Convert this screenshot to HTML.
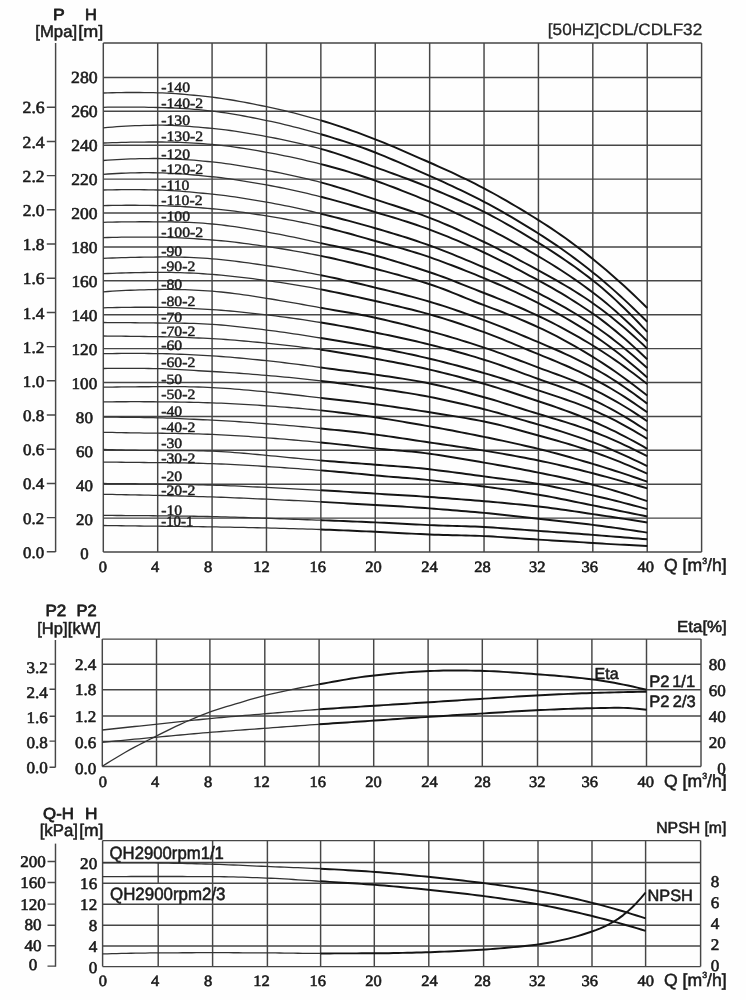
<!DOCTYPE html>
<html lang="en">
<head>
<meta charset="utf-8">
<title>[50HZ]CDL/CDLF32 performance curves</title>
<style>
html,body{margin:0;padding:0;background:#fff;}
body{width:746px;height:1000px;overflow:hidden;}
svg{display:block;filter:blur(0.45px);}
text{text-rendering:geometricPrecision;fill:#1c1c1c;stroke:#1c1c1c;stroke-width:.6px;stroke-linejoin:round;}
.s{font-family:"Liberation Serif",serif;}
.a{font-family:"Liberation Sans",sans-serif;stroke-width:.55px;}
.b{font-weight:bold;stroke-width:0;}
.m{stroke-width:.75px;}
.l{stroke-width:.45px;}
.t{stroke-width:.3px;fill:#262626;stroke:#262626;}
</style>
</head>
<body>
<svg width="746" height="1000" viewBox="0 0 746 1000">
<rect width="746" height="1000" fill="#fefefe"/>
<path d="M103.30 43.00V552.00M157.69 43.00V552.00M212.08 43.00V552.00M266.47 43.00V552.00M320.86 43.00V552.00M375.25 43.00V552.00M429.65 43.00V552.00M484.04 43.00V552.00M538.43 43.00V552.00M592.82 43.00V552.00M647.21 43.00V552.00M701.60 43.00V552.00M103.30 43.00H701.60M103.30 77.40H701.60M103.30 111.30H701.60M103.30 145.20H701.60M103.30 179.10H701.60M103.30 213.00H701.60M103.30 246.90H701.60M103.30 280.80H701.60M103.30 314.70H701.60M103.30 348.60H701.60M103.30 382.50H701.60M103.30 416.40H701.60M103.30 450.30H701.60M103.30 484.20H701.60M103.30 518.10H701.60M103.30 552.00H701.60" stroke="#464646" stroke-width="1.45" fill="none"/>
<path d="M103.30 93.00L107.83 92.86L112.37 92.74L116.90 92.64L121.43 92.56L125.96 92.51L130.50 92.48L135.03 92.48L139.56 92.51L144.09 92.56L148.63 92.63L153.16 92.71L157.69 92.80L162.22 92.92L166.76 93.11L171.29 93.35L175.82 93.65L180.35 93.99L184.89 94.37L189.42 94.79L193.95 95.23L198.48 95.70L203.02 96.20L207.55 96.70L212.08 97.21L216.61 97.76L221.15 98.37L225.68 99.03L230.21 99.75L234.74 100.51L239.28 101.31L243.81 102.15L248.34 103.01L252.88 103.91L257.41 104.82L261.94 105.74L266.47 106.68L271.01 107.63L275.54 108.62L280.07 109.65L284.60 110.71L289.14 111.80L293.67 112.93L298.20 114.09L302.73 115.29L307.27 116.52L311.80 117.78L316.33 119.07L320.86 120.40" stroke="#333" stroke-width="1.3" fill="none" stroke-linejoin="round"/>
<path d="M320.86 120.40L325.40 121.77L329.93 123.17L334.46 124.62L338.99 126.11L343.53 127.64L348.06 129.21L352.59 130.81L357.12 132.44L361.66 134.11L366.19 135.81L370.72 137.54L375.25 139.30L379.79 141.09L384.32 142.93L388.85 144.80L393.38 146.70L397.92 148.63L402.45 150.58L406.98 152.55L411.52 154.53L416.05 156.52L420.58 158.52L425.11 160.51L429.65 162.50L434.18 164.50L438.71 166.52L443.24 168.56L447.78 170.63L452.31 172.73L456.84 174.87L461.37 177.03L465.91 179.23L470.44 181.46L474.97 183.74L479.50 186.05L484.04 188.40L488.57 190.80L493.10 193.26L497.63 195.77L502.17 198.32L506.70 200.92L511.23 203.56L515.76 206.24L520.30 208.96L524.83 211.70L529.36 214.48L533.89 217.28L538.43 220.10L542.96 222.97L547.49 225.90L552.03 228.91L556.56 231.98L561.09 235.12L565.62 238.32L570.16 241.60L574.69 244.94L579.22 248.35L583.75 251.84L588.29 255.38L592.82 259.00L597.35 262.69L601.88 266.45L606.42 270.28L610.95 274.19L615.48 278.17L620.01 282.22L624.55 286.34L629.08 290.53L633.61 294.80L638.14 299.13L642.68 303.53L647.21 308.00" stroke="#141414" stroke-width="1.95" fill="none" stroke-linejoin="round"/>
<path d="M103.30 107.30L107.83 107.21L112.37 107.15L116.90 107.09L121.43 107.06L125.96 107.04L130.50 107.05L135.03 107.07L139.56 107.12L144.09 107.20L148.63 107.29L153.16 107.39L157.69 107.50L162.22 107.62L166.76 107.77L171.29 107.94L175.82 108.14L180.35 108.37L184.89 108.64L189.42 108.95L193.95 109.29L198.48 109.68L203.02 110.12L207.55 110.60L212.08 111.10L216.61 111.64L221.15 112.24L225.68 112.90L230.21 113.61L234.74 114.37L239.28 115.17L243.81 116.00L248.34 116.86L252.88 117.75L257.41 118.66L261.94 119.59L266.47 120.52L271.01 121.47L275.54 122.46L280.07 123.48L284.60 124.54L289.14 125.63L293.67 126.76L298.20 127.92L302.73 129.11L307.27 130.33L311.80 131.59L316.33 132.88L320.86 134.20" stroke="#333" stroke-width="1.3" fill="none" stroke-linejoin="round"/>
<path d="M320.86 134.20L325.40 135.55L329.93 136.91L334.46 138.31L338.99 139.73L343.53 141.18L348.06 142.67L352.59 144.19L357.12 145.76L361.66 147.37L366.19 149.03L370.72 150.74L375.25 152.50L379.79 154.31L384.32 156.17L388.85 158.06L393.38 159.98L397.92 161.92L402.45 163.89L406.98 165.88L411.52 167.87L416.05 169.88L420.58 171.89L425.11 173.90L429.65 175.90L434.18 177.91L438.71 179.93L443.24 181.98L447.78 184.05L452.31 186.15L456.84 188.28L461.37 190.45L465.91 192.64L470.44 194.87L474.97 197.14L479.50 199.45L484.04 201.80L488.57 204.20L493.10 206.66L497.63 209.16L502.17 211.71L506.70 214.31L511.23 216.95L515.76 219.63L520.30 222.34L524.83 225.09L529.36 227.87L533.89 230.67L538.43 233.50L542.96 236.37L547.49 239.31L552.03 242.32L556.56 245.40L561.09 248.54L565.62 251.75L570.16 255.02L574.69 258.36L579.22 261.77L583.75 265.25L588.29 268.79L592.82 272.40L597.35 276.08L601.88 279.85L606.42 283.70L610.95 287.63L615.48 291.64L620.01 295.73L624.55 299.90L629.08 304.13L633.61 308.44L638.14 312.83L642.68 317.28L647.21 321.80" stroke="#141414" stroke-width="1.95" fill="none" stroke-linejoin="round"/>
<path d="M103.30 127.80L107.83 127.41L112.37 127.04L116.90 126.71L121.43 126.41L125.96 126.14L130.50 125.90L135.03 125.70L139.56 125.54L144.09 125.41L148.63 125.32L153.16 125.25L157.69 125.20L162.22 125.20L166.76 125.27L171.29 125.40L175.82 125.59L180.35 125.84L184.89 126.12L189.42 126.45L193.95 126.80L198.48 127.18L203.02 127.58L207.55 127.98L212.08 128.39L216.61 128.84L221.15 129.34L225.68 129.90L230.21 130.50L234.74 131.15L239.28 131.84L243.81 132.57L248.34 133.32L252.88 134.10L257.41 134.90L261.94 135.71L266.47 136.53L271.01 137.37L275.54 138.25L280.07 139.16L284.60 140.11L289.14 141.09L293.67 142.10L298.20 143.15L302.73 144.24L307.27 145.35L311.80 146.50L316.33 147.68L320.86 148.90" stroke="#333" stroke-width="1.3" fill="none" stroke-linejoin="round"/>
<path d="M320.86 148.90L325.40 150.17L329.93 151.52L334.46 152.93L338.99 154.39L343.53 155.91L348.06 157.46L352.59 159.05L357.12 160.66L361.66 162.29L366.19 163.93L370.72 165.57L375.25 167.20L379.79 168.82L384.32 170.45L388.85 172.08L393.38 173.73L397.92 175.38L402.45 177.06L406.98 178.76L411.52 180.48L416.05 182.23L420.58 184.01L425.11 185.84L429.65 187.70L434.18 189.59L438.71 191.48L443.24 193.39L447.78 195.32L452.31 197.27L456.84 199.24L461.37 201.25L465.91 203.29L470.44 205.37L474.97 207.50L479.50 209.67L484.04 211.90L488.57 214.19L493.10 216.56L497.63 219.00L502.17 221.49L506.70 224.04L511.23 226.64L515.76 229.28L520.30 231.95L524.83 234.66L529.36 237.39L533.89 240.14L538.43 242.90L542.96 245.69L547.49 248.53L552.03 251.43L556.56 254.38L561.09 257.39L565.62 260.47L570.16 263.61L574.69 266.82L579.22 270.10L583.75 273.46L588.29 276.89L592.82 280.40L597.35 284.03L601.88 287.79L606.42 291.70L610.95 295.73L615.48 299.89L620.01 304.17L624.55 308.55L629.08 313.04L633.61 317.62L638.14 322.30L642.68 327.06L647.21 331.90" stroke="#141414" stroke-width="1.95" fill="none" stroke-linejoin="round"/>
<path d="M103.30 143.00L107.83 142.83L112.37 142.68L116.90 142.54L121.43 142.42L125.96 142.30L130.50 142.21L135.03 142.13L139.56 142.08L144.09 142.05L148.63 142.02L153.16 142.01L157.69 142.00L162.22 142.01L166.76 142.06L171.29 142.14L175.82 142.26L180.35 142.42L184.89 142.61L189.42 142.83L193.95 143.09L198.48 143.39L203.02 143.71L207.55 144.07L212.08 144.45L216.61 144.86L221.15 145.34L225.68 145.87L230.21 146.45L234.74 147.08L239.28 147.75L243.81 148.45L248.34 149.19L252.88 149.94L257.41 150.72L261.94 151.51L266.47 152.31L271.01 153.13L275.54 153.98L280.07 154.87L284.60 155.78L289.14 156.72L293.67 157.69L298.20 158.70L302.73 159.72L307.27 160.78L311.80 161.86L316.33 162.97L320.86 164.10" stroke="#333" stroke-width="1.3" fill="none" stroke-linejoin="round"/>
<path d="M320.86 164.10L325.40 165.26L329.93 166.47L334.46 167.71L338.99 168.99L343.53 170.31L348.06 171.67L352.59 173.07L357.12 174.50L361.66 175.97L366.19 177.48L370.72 179.02L375.25 180.60L379.79 182.22L384.32 183.87L388.85 185.56L393.38 187.28L397.92 189.03L402.45 190.80L406.98 192.59L411.52 194.40L416.05 196.21L420.58 198.04L425.11 199.87L429.65 201.70L434.18 203.56L438.71 205.46L443.24 207.41L447.78 209.41L452.31 211.45L456.84 213.52L461.37 215.63L465.91 217.77L470.44 219.94L474.97 222.14L479.50 224.36L484.04 226.60L488.57 228.87L493.10 231.18L497.63 233.54L502.17 235.93L506.70 238.37L511.23 240.83L515.76 243.34L520.30 245.87L524.83 248.44L529.36 251.03L533.89 253.65L538.43 256.30L542.96 258.99L547.49 261.72L552.03 264.52L556.56 267.37L561.09 270.29L565.62 273.26L570.16 276.30L574.69 279.40L579.22 282.57L583.75 285.81L588.29 289.12L592.82 292.50L597.35 295.98L601.88 299.58L606.42 303.30L610.95 307.13L615.48 311.07L620.01 315.11L624.55 319.24L629.08 323.47L633.61 327.79L638.14 332.18L642.68 336.66L647.21 341.20" stroke="#141414" stroke-width="1.95" fill="none" stroke-linejoin="round"/>
<path d="M103.30 160.50L107.83 160.17L112.37 159.86L116.90 159.58L121.43 159.34L125.96 159.12L130.50 158.93L135.03 158.78L139.56 158.66L144.09 158.58L148.63 158.53L153.16 158.50L157.69 158.50L162.22 158.54L166.76 158.63L171.29 158.78L175.82 158.99L180.35 159.23L184.89 159.53L189.42 159.86L193.95 160.22L198.48 160.62L203.02 161.04L207.55 161.49L212.08 161.95L216.61 162.43L221.15 162.97L225.68 163.56L230.21 164.19L234.74 164.86L239.28 165.57L243.81 166.31L248.34 167.07L252.88 167.86L257.41 168.66L261.94 169.47L266.47 170.29L271.01 171.13L275.54 172.01L280.07 172.91L284.60 173.84L289.14 174.81L293.67 175.80L298.20 176.83L302.73 177.88L307.27 178.97L311.80 180.08L316.33 181.23L320.86 182.40" stroke="#333" stroke-width="1.3" fill="none" stroke-linejoin="round"/>
<path d="M320.86 182.40L325.40 183.62L329.93 184.89L334.46 186.22L338.99 187.58L343.53 188.99L348.06 190.43L352.59 191.89L357.12 193.38L361.66 194.87L366.19 196.38L370.72 197.89L375.25 199.40L379.79 200.89L384.32 202.37L388.85 203.84L393.38 205.30L397.92 206.77L402.45 208.25L406.98 209.75L411.52 211.28L416.05 212.84L420.58 214.44L425.11 216.09L429.65 217.80L434.18 219.57L438.71 221.40L443.24 223.30L447.78 225.24L452.31 227.23L456.84 229.26L461.37 231.33L465.91 233.43L470.44 235.55L474.97 237.69L479.50 239.84L484.04 242.00L488.57 244.19L493.10 246.42L497.63 248.69L502.17 251.01L506.70 253.36L511.23 255.73L515.76 258.14L520.30 260.56L524.83 263.00L529.36 265.46L533.89 267.93L538.43 270.40L542.96 272.88L547.49 275.38L552.03 277.90L556.56 280.46L561.09 283.07L565.62 285.72L570.16 288.44L574.69 291.22L579.22 294.08L583.75 297.02L588.29 300.06L592.82 303.20L597.35 306.45L601.88 309.80L606.42 313.26L610.95 316.82L615.48 320.48L620.01 324.23L624.55 328.07L629.08 332.01L633.61 336.03L638.14 340.14L642.68 344.33L647.21 348.60" stroke="#141414" stroke-width="1.95" fill="none" stroke-linejoin="round"/>
<path d="M103.30 174.30L107.83 174.00L112.37 173.73L116.90 173.49L121.43 173.27L125.96 173.09L130.50 172.93L135.03 172.82L139.56 172.74L144.09 172.71L148.63 172.71L153.16 172.74L157.69 172.80L162.22 172.91L166.76 173.07L171.29 173.29L175.82 173.56L180.35 173.87L184.89 174.21L189.42 174.59L193.95 174.99L198.48 175.41L203.02 175.85L207.55 176.29L212.08 176.74L216.61 177.21L221.15 177.74L225.68 178.32L230.21 178.94L234.74 179.60L239.28 180.29L243.81 181.02L248.34 181.77L252.88 182.54L257.41 183.32L261.94 184.12L266.47 184.93L271.01 185.75L275.54 186.61L280.07 187.50L284.60 188.41L289.14 189.36L293.67 190.33L298.20 191.34L302.73 192.37L307.27 193.43L311.80 194.53L316.33 195.65L320.86 196.80" stroke="#333" stroke-width="1.3" fill="none" stroke-linejoin="round"/>
<path d="M320.86 196.80L325.40 197.98L329.93 199.17L334.46 200.39L338.99 201.63L343.53 202.88L348.06 204.15L352.59 205.44L357.12 206.75L361.66 208.07L366.19 209.40L370.72 210.74L375.25 212.10L379.79 213.46L384.32 214.81L388.85 216.17L393.38 217.54L397.92 218.92L402.45 220.33L406.98 221.77L411.52 223.24L416.05 224.75L420.58 226.31L425.11 227.92L429.65 229.60L434.18 231.33L438.71 233.09L443.24 234.88L447.78 236.71L452.31 238.58L456.84 240.47L461.37 242.40L465.91 244.36L470.44 246.35L474.97 248.37L479.50 250.42L484.04 252.50L488.57 254.62L493.10 256.80L497.63 259.02L502.17 261.29L506.70 263.60L511.23 265.94L515.76 268.31L520.30 270.70L524.83 273.11L529.36 275.53L533.89 277.97L538.43 280.40L542.96 282.86L547.49 285.37L552.03 287.93L556.56 290.54L561.09 293.21L565.62 295.94L570.16 298.72L574.69 301.57L579.22 304.48L583.75 307.45L588.29 310.49L592.82 313.60L597.35 316.81L601.88 320.15L606.42 323.61L610.95 327.18L615.48 330.87L620.01 334.67L624.55 338.56L629.08 342.55L633.61 346.62L638.14 350.77L642.68 355.00L647.21 359.30" stroke="#141414" stroke-width="1.95" fill="none" stroke-linejoin="round"/>
<path d="M103.30 190.00L107.83 189.89L112.37 189.80L116.90 189.73L121.43 189.68L125.96 189.65L130.50 189.64L135.03 189.66L139.56 189.69L144.09 189.75L148.63 189.82L153.16 189.91L157.69 190.00L162.22 190.13L166.76 190.31L171.29 190.56L175.82 190.85L180.35 191.18L184.89 191.55L189.42 191.94L193.95 192.36L198.48 192.80L203.02 193.24L207.55 193.69L212.08 194.14L216.61 194.61L221.15 195.13L225.68 195.70L230.21 196.31L234.74 196.96L239.28 197.64L243.81 198.35L248.34 199.08L252.88 199.84L257.41 200.60L261.94 201.38L266.47 202.17L271.01 202.97L275.54 203.81L280.07 204.67L284.60 205.56L289.14 206.48L293.67 207.42L298.20 208.40L302.73 209.40L307.27 210.44L311.80 211.50L316.33 212.58L320.86 213.70" stroke="#333" stroke-width="1.3" fill="none" stroke-linejoin="round"/>
<path d="M320.86 213.70L325.40 214.83L329.93 215.98L334.46 217.13L338.99 218.30L343.53 219.48L348.06 220.67L352.59 221.88L357.12 223.11L361.66 224.35L366.19 225.61L370.72 226.90L375.25 228.20L379.79 229.52L384.32 230.85L388.85 232.20L393.38 233.56L397.92 234.95L402.45 236.36L406.98 237.80L411.52 239.26L416.05 240.76L420.58 242.30L425.11 243.88L429.65 245.50L434.18 247.17L438.71 248.87L443.24 250.62L447.78 252.40L452.31 254.21L456.84 256.05L461.37 257.91L465.91 259.80L470.44 261.70L474.97 263.62L479.50 265.56L484.04 267.50L488.57 269.46L493.10 271.46L497.63 273.48L502.17 275.54L506.70 277.63L511.23 279.76L515.76 281.91L520.30 284.10L524.83 286.33L529.36 288.58L533.89 290.88L538.43 293.20L542.96 295.56L547.49 297.95L552.03 300.37L556.56 302.84L561.09 305.36L565.62 307.93L570.16 310.55L574.69 313.24L579.22 315.99L583.75 318.82L588.29 321.72L592.82 324.70L597.35 327.78L601.88 330.97L606.42 334.26L610.95 337.65L615.48 341.15L620.01 344.73L624.55 348.41L629.08 352.17L633.61 356.02L638.14 359.94L642.68 363.93L647.21 368.00" stroke="#141414" stroke-width="1.95" fill="none" stroke-linejoin="round"/>
<path d="M103.30 205.60L107.83 205.50L112.37 205.41L116.90 205.34L121.43 205.29L125.96 205.27L130.50 205.26L135.03 205.27L139.56 205.31L144.09 205.36L148.63 205.43L153.16 205.51L157.69 205.60L162.22 205.71L166.76 205.85L171.29 206.03L175.82 206.23L180.35 206.47L184.89 206.73L189.42 207.02L193.95 207.33L198.48 207.66L203.02 208.01L207.55 208.37L212.08 208.75L216.61 209.15L221.15 209.60L225.68 210.10L230.21 210.64L234.74 211.22L239.28 211.82L243.81 212.46L248.34 213.12L252.88 213.80L257.41 214.50L261.94 215.21L266.47 215.92L271.01 216.65L275.54 217.41L280.07 218.19L284.60 219.00L289.14 219.84L293.67 220.70L298.20 221.59L302.73 222.50L307.27 223.44L311.80 224.40L316.33 225.39L320.86 226.40" stroke="#333" stroke-width="1.3" fill="none" stroke-linejoin="round"/>
<path d="M320.86 226.40L325.40 227.45L329.93 228.54L334.46 229.68L338.99 230.86L343.53 232.07L348.06 233.30L352.59 234.56L357.12 235.83L361.66 237.12L366.19 238.41L370.72 239.71L375.25 241.00L379.79 242.28L384.32 243.55L388.85 244.81L393.38 246.08L397.92 247.36L402.45 248.65L406.98 249.97L411.52 251.32L416.05 252.72L420.58 254.15L425.11 255.65L429.65 257.20L434.18 258.80L438.71 260.43L443.24 262.10L447.78 263.79L452.31 265.50L456.84 267.25L461.37 269.01L465.91 270.81L470.44 272.62L474.97 274.46L479.50 276.32L484.04 278.20L488.57 280.10L493.10 282.03L497.63 283.99L502.17 285.98L506.70 288.00L511.23 290.06L515.76 292.15L520.30 294.28L524.83 296.45L529.36 298.65L533.89 300.91L538.43 303.20L542.96 305.54L547.49 307.93L552.03 310.37L556.56 312.85L561.09 315.39L565.62 317.99L570.16 320.64L574.69 323.35L579.22 326.12L583.75 328.95L588.29 331.84L592.82 334.80L597.35 337.85L601.88 341.00L606.42 344.25L610.95 347.60L615.48 351.04L620.01 354.57L624.55 358.19L629.08 361.89L633.61 365.66L638.14 369.51L642.68 373.42L647.21 377.40" stroke="#141414" stroke-width="1.95" fill="none" stroke-linejoin="round"/>
<path d="M103.30 222.30L107.83 222.20L112.37 222.10L116.90 222.01L121.43 221.94L125.96 221.87L130.50 221.82L135.03 221.78L139.56 221.77L144.09 221.76L148.63 221.77L153.16 221.78L157.69 221.80L162.22 221.83L166.76 221.86L171.29 221.92L175.82 221.99L180.35 222.09L184.89 222.23L189.42 222.40L193.95 222.62L198.48 222.88L203.02 223.20L207.55 223.58L212.08 223.99L216.61 224.43L221.15 224.93L225.68 225.48L230.21 226.08L234.74 226.72L239.28 227.40L243.81 228.11L248.34 228.85L252.88 229.61L257.41 230.39L261.94 231.18L266.47 231.97L271.01 232.78L275.54 233.62L280.07 234.48L284.60 235.36L289.14 236.27L293.67 237.19L298.20 238.14L302.73 239.10L307.27 240.08L311.80 241.07L316.33 242.08L320.86 243.10" stroke="#333" stroke-width="1.3" fill="none" stroke-linejoin="round"/>
<path d="M320.86 243.10L325.40 244.11L329.93 245.10L334.46 246.07L338.99 247.04L343.53 248.00L348.06 248.98L352.59 249.97L357.12 250.99L361.66 252.04L366.19 253.14L370.72 254.29L375.25 255.50L379.79 256.76L384.32 258.05L388.85 259.36L393.38 260.71L397.92 262.08L402.45 263.47L406.98 264.89L411.52 266.32L416.05 267.77L420.58 269.23L425.11 270.71L429.65 272.20L434.18 273.73L438.71 275.33L443.24 276.99L447.78 278.71L452.31 280.46L456.84 282.24L461.37 284.04L465.91 285.85L470.44 287.66L474.97 289.46L479.50 291.25L484.04 293.00L488.57 294.75L493.10 296.52L497.63 298.31L502.17 300.14L506.70 301.99L511.23 303.88L515.76 305.80L520.30 307.75L524.83 309.75L529.36 311.79L533.89 313.87L538.43 316.00L542.96 318.18L547.49 320.40L552.03 322.68L556.56 325.00L561.09 327.38L565.62 329.81L570.16 332.29L574.69 334.82L579.22 337.41L583.75 340.05L588.29 342.75L592.82 345.50L597.35 348.32L601.88 351.22L606.42 354.20L610.95 357.25L615.48 360.38L620.01 363.57L624.55 366.84L629.08 370.17L633.61 373.56L638.14 377.02L642.68 380.53L647.21 384.10" stroke="#141414" stroke-width="1.95" fill="none" stroke-linejoin="round"/>
<path d="M103.30 237.60L107.83 237.48L112.37 237.38L116.90 237.29L121.43 237.22L125.96 237.16L130.50 237.12L135.03 237.09L139.56 237.09L144.09 237.10L148.63 237.13L153.16 237.16L157.69 237.20L162.22 237.26L166.76 237.37L171.29 237.52L175.82 237.70L180.35 237.91L184.89 238.16L189.42 238.42L193.95 238.71L198.48 239.02L203.02 239.34L207.55 239.67L212.08 240.00L216.61 240.36L221.15 240.76L225.68 241.21L230.21 241.70L234.74 242.22L239.28 242.77L243.81 243.34L248.34 243.94L252.88 244.56L257.41 245.18L261.94 245.82L266.47 246.47L271.01 247.12L275.54 247.81L280.07 248.51L284.60 249.24L289.14 250.00L293.67 250.77L298.20 251.57L302.73 252.40L307.27 253.24L311.80 254.11L316.33 254.99L320.86 255.90" stroke="#333" stroke-width="1.3" fill="none" stroke-linejoin="round"/>
<path d="M320.86 255.90L325.40 256.84L329.93 257.80L334.46 258.81L338.99 259.83L343.53 260.89L348.06 261.97L352.59 263.07L357.12 264.19L361.66 265.32L366.19 266.47L370.72 267.63L375.25 268.80L379.79 269.98L384.32 271.16L388.85 272.36L393.38 273.58L397.92 274.81L402.45 276.07L406.98 277.35L411.52 278.66L416.05 279.99L420.58 281.36L425.11 282.76L429.65 284.20L434.18 285.71L438.71 287.32L443.24 289.02L447.78 290.77L452.31 292.58L456.84 294.42L461.37 296.27L465.91 298.12L470.44 299.96L474.97 301.76L479.50 303.51L484.04 305.20L488.57 306.86L493.10 308.55L497.63 310.26L502.17 312.01L506.70 313.79L511.23 315.60L515.76 317.45L520.30 319.34L524.83 321.27L529.36 323.24L533.89 325.25L538.43 327.30L542.96 329.41L547.49 331.60L552.03 333.86L556.56 336.19L561.09 338.58L565.62 341.03L570.16 343.54L574.69 346.11L579.22 348.73L583.75 351.41L588.29 354.13L592.82 356.90L597.35 359.73L601.88 362.64L606.42 365.62L610.95 368.68L615.48 371.80L620.01 375.00L624.55 378.26L629.08 381.59L633.61 384.98L638.14 388.43L642.68 391.94L647.21 395.50" stroke="#141414" stroke-width="1.95" fill="none" stroke-linejoin="round"/>
<path d="M103.30 258.40L107.83 258.20L112.37 258.01L116.90 257.84L121.43 257.69L125.96 257.55L130.50 257.42L135.03 257.32L139.56 257.23L144.09 257.16L148.63 257.10L153.16 257.05L157.69 257.00L162.22 256.97L166.76 256.96L171.29 256.98L175.82 257.03L180.35 257.12L184.89 257.24L189.42 257.40L193.95 257.60L198.48 257.84L203.02 258.13L207.55 258.47L212.08 258.83L216.61 259.22L221.15 259.65L225.68 260.12L230.21 260.63L234.74 261.17L239.28 261.74L243.81 262.34L248.34 262.96L252.88 263.60L257.41 264.25L261.94 264.91L266.47 265.58L271.01 266.26L275.54 266.97L280.07 267.70L284.60 268.45L289.14 269.22L293.67 270.01L298.20 270.83L302.73 271.66L307.27 272.52L311.80 273.39L316.33 274.29L320.86 275.20" stroke="#333" stroke-width="1.3" fill="none" stroke-linejoin="round"/>
<path d="M320.86 275.20L325.40 276.13L329.93 277.09L334.46 278.07L338.99 279.07L343.53 280.09L348.06 281.13L352.59 282.18L357.12 283.25L361.66 284.32L366.19 285.41L370.72 286.50L375.25 287.60L379.79 288.70L384.32 289.80L388.85 290.91L393.38 292.02L397.92 293.15L402.45 294.29L406.98 295.45L411.52 296.64L416.05 297.85L420.58 299.10L425.11 300.38L429.65 301.70L434.18 303.06L438.71 304.47L443.24 305.91L447.78 307.40L452.31 308.91L456.84 310.46L461.37 312.03L465.91 313.63L470.44 315.25L474.97 316.89L479.50 318.54L484.04 320.20L488.57 321.89L493.10 323.62L497.63 325.38L502.17 327.17L506.70 328.99L511.23 330.84L515.76 332.70L520.30 334.58L524.83 336.48L529.36 338.38L533.89 340.29L538.43 342.20L542.96 344.12L547.49 346.05L552.03 348.01L556.56 349.99L561.09 352.01L565.62 354.07L570.16 356.17L574.69 358.33L579.22 360.55L583.75 362.82L588.29 365.17L592.82 367.60L597.35 370.12L601.88 372.73L606.42 375.45L610.95 378.26L615.48 381.15L620.01 384.14L624.55 387.20L629.08 390.34L633.61 393.55L638.14 396.84L642.68 400.19L647.21 403.60" stroke="#141414" stroke-width="1.95" fill="none" stroke-linejoin="round"/>
<path d="M103.30 273.70L107.83 273.50L112.37 273.32L116.90 273.15L121.43 273.00L125.96 272.87L130.50 272.75L135.03 272.66L139.56 272.58L144.09 272.52L148.63 272.47L153.16 272.43L157.69 272.40L162.22 272.39L166.76 272.41L171.29 272.46L175.82 272.54L180.35 272.66L184.89 272.81L189.42 272.99L193.95 273.21L198.48 273.46L203.02 273.75L207.55 274.07L212.08 274.40L216.61 274.75L221.15 275.14L225.68 275.57L230.21 276.03L234.74 276.53L239.28 277.04L243.81 277.59L248.34 278.15L252.88 278.72L257.41 279.31L261.94 279.91L266.47 280.52L271.01 281.13L275.54 281.78L280.07 282.44L284.60 283.12L289.14 283.83L293.67 284.56L298.20 285.32L302.73 286.09L307.27 286.89L311.80 287.70L316.33 288.54L320.86 289.40" stroke="#333" stroke-width="1.3" fill="none" stroke-linejoin="round"/>
<path d="M320.86 289.40L325.40 290.28L329.93 291.18L334.46 292.10L338.99 293.03L343.53 293.98L348.06 294.95L352.59 295.93L357.12 296.92L361.66 297.93L366.19 298.94L370.72 299.97L375.25 301.00L379.79 302.04L384.32 303.08L388.85 304.12L393.38 305.18L397.92 306.25L402.45 307.34L406.98 308.44L411.52 309.57L416.05 310.73L420.58 311.92L425.11 313.14L429.65 314.40L434.18 315.70L438.71 317.04L443.24 318.42L447.78 319.83L452.31 321.28L456.84 322.76L461.37 324.27L465.91 325.81L470.44 327.37L474.97 328.96L479.50 330.57L484.04 332.20L488.57 333.87L493.10 335.60L497.63 337.38L502.17 339.20L506.70 341.05L511.23 342.92L515.76 344.82L520.30 346.71L524.83 348.61L529.36 350.49L533.89 352.36L538.43 354.20L542.96 356.03L547.49 357.87L552.03 359.73L556.56 361.62L561.09 363.55L565.62 365.50L570.16 367.51L574.69 369.56L579.22 371.67L583.75 373.85L588.29 376.09L592.82 378.40L597.35 380.80L601.88 383.28L606.42 385.85L610.95 388.50L615.48 391.23L620.01 394.04L624.55 396.91L629.08 399.86L633.61 402.88L638.14 405.96L642.68 409.10L647.21 412.30" stroke="#141414" stroke-width="1.95" fill="none" stroke-linejoin="round"/>
<path d="M103.30 291.80L107.83 291.49L112.37 291.20L116.90 290.93L121.43 290.68L125.96 290.45L130.50 290.24L135.03 290.06L139.56 289.91L144.09 289.78L148.63 289.67L153.16 289.58L157.69 289.50L162.22 289.45L166.76 289.43L171.29 289.45L175.82 289.50L180.35 289.58L184.89 289.71L189.42 289.86L193.95 290.06L198.48 290.29L203.02 290.56L207.55 290.86L212.08 291.20L216.61 291.57L221.15 292.00L225.68 292.48L230.21 293.01L234.74 293.58L239.28 294.18L243.81 294.82L248.34 295.48L252.88 296.16L257.41 296.86L261.94 297.57L266.47 298.29L271.01 299.01L275.54 299.76L280.07 300.52L284.60 301.30L289.14 302.09L293.67 302.89L298.20 303.70L302.73 304.51L307.27 305.33L311.80 306.15L316.33 306.98L320.86 307.80" stroke="#333" stroke-width="1.3" fill="none" stroke-linejoin="round"/>
<path d="M320.86 307.80L325.40 308.61L329.93 309.39L334.46 310.17L338.99 310.93L343.53 311.70L348.06 312.47L352.59 313.26L357.12 314.07L361.66 314.92L366.19 315.80L370.72 316.72L375.25 317.70L379.79 318.72L384.32 319.77L388.85 320.84L393.38 321.93L397.92 323.04L402.45 324.17L406.98 325.31L411.52 326.47L416.05 327.64L420.58 328.82L425.11 330.01L429.65 331.20L434.18 332.41L438.71 333.66L443.24 334.93L447.78 336.24L452.31 337.58L456.84 338.94L461.37 340.33L465.91 341.74L470.44 343.18L474.97 344.63L479.50 346.11L484.04 347.60L488.57 349.12L493.10 350.69L497.63 352.30L502.17 353.94L506.70 355.61L511.23 357.30L515.76 359.00L520.30 360.72L524.83 362.45L529.36 364.17L533.89 365.89L538.43 367.60L542.96 369.29L547.49 370.95L552.03 372.60L556.56 374.25L561.09 375.91L565.62 377.61L570.16 379.34L574.69 381.13L579.22 382.99L583.75 384.93L588.29 386.96L592.82 389.10L597.35 391.34L601.88 393.66L606.42 396.07L610.95 398.56L615.48 401.13L620.01 403.77L624.55 406.49L629.08 409.29L633.61 412.16L638.14 415.10L642.68 418.12L647.21 421.20" stroke="#141414" stroke-width="1.95" fill="none" stroke-linejoin="round"/>
<path d="M103.30 307.80L107.83 307.68L112.37 307.57L116.90 307.48L121.43 307.40L125.96 307.34L130.50 307.29L135.03 307.26L139.56 307.24L144.09 307.24L148.63 307.25L153.16 307.27L157.69 307.30L162.22 307.35L166.76 307.44L171.29 307.56L175.82 307.71L180.35 307.89L184.89 308.09L189.42 308.32L193.95 308.56L198.48 308.82L203.02 309.08L207.55 309.35L212.08 309.63L216.61 309.93L221.15 310.26L225.68 310.63L230.21 311.02L234.74 311.44L239.28 311.89L243.81 312.36L248.34 312.84L252.88 313.34L257.41 313.85L261.94 314.36L266.47 314.89L271.01 315.42L275.54 315.97L280.07 316.54L284.60 317.13L289.14 317.74L293.67 318.37L298.20 319.01L302.73 319.68L307.27 320.36L311.80 321.05L316.33 321.77L320.86 322.50" stroke="#333" stroke-width="1.3" fill="none" stroke-linejoin="round"/>
<path d="M320.86 322.50L325.40 323.25L329.93 324.01L334.46 324.80L338.99 325.59L343.53 326.41L348.06 327.24L352.59 328.08L357.12 328.94L361.66 329.81L366.19 330.69L370.72 331.59L375.25 332.50L379.79 333.42L384.32 334.35L388.85 335.29L393.38 336.25L397.92 337.23L402.45 338.22L406.98 339.23L411.52 340.25L416.05 341.30L420.58 342.38L425.11 343.48L429.65 344.60L434.18 345.75L438.71 346.91L443.24 348.09L447.78 349.29L452.31 350.50L456.84 351.74L461.37 353.01L465.91 354.29L470.44 355.60L474.97 356.94L479.50 358.31L484.04 359.70L488.57 361.14L493.10 362.64L497.63 364.18L502.17 365.77L506.70 367.39L511.23 369.03L515.76 370.69L520.30 372.37L524.83 374.04L529.36 375.71L533.89 377.37L538.43 379.00L542.96 380.61L547.49 382.21L552.03 383.81L556.56 385.41L561.09 387.04L565.62 388.69L570.16 390.39L574.69 392.13L579.22 393.93L583.75 395.80L588.29 397.76L592.82 399.80L597.35 401.94L601.88 404.17L606.42 406.50L610.95 408.91L615.48 411.41L620.01 413.99L624.55 416.65L629.08 419.38L633.61 422.18L638.14 425.06L642.68 428.00L647.21 431.00" stroke="#141414" stroke-width="1.95" fill="none" stroke-linejoin="round"/>
<path d="M103.30 322.50L107.83 322.54L112.37 322.58L116.90 322.61L121.43 322.64L125.96 322.67L130.50 322.70L135.03 322.74L139.56 322.78L144.09 322.83L148.63 322.88L153.16 322.94L157.69 323.00L162.22 323.05L166.76 323.09L171.29 323.11L175.82 323.14L180.35 323.18L184.89 323.23L189.42 323.31L193.95 323.43L198.48 323.59L203.02 323.79L207.55 324.06L212.08 324.35L216.61 324.67L221.15 325.02L225.68 325.42L230.21 325.85L234.74 326.30L239.28 326.79L243.81 327.29L248.34 327.82L252.88 328.36L257.41 328.91L261.94 329.48L266.47 330.04L271.01 330.62L275.54 331.22L280.07 331.83L284.60 332.46L289.14 333.11L293.67 333.77L298.20 334.44L302.73 335.13L307.27 335.83L311.80 336.54L316.33 337.27L320.86 338.00" stroke="#333" stroke-width="1.3" fill="none" stroke-linejoin="round"/>
<path d="M320.86 338.00L325.40 338.74L329.93 339.47L334.46 340.20L338.99 340.93L343.53 341.67L348.06 342.42L352.59 343.17L357.12 343.94L361.66 344.73L366.19 345.53L370.72 346.35L375.25 347.20L379.79 348.07L384.32 348.95L388.85 349.84L393.38 350.76L397.92 351.68L402.45 352.63L406.98 353.59L411.52 354.57L416.05 355.57L420.58 356.60L425.11 357.64L429.65 358.70L434.18 359.79L438.71 360.90L443.24 362.03L447.78 363.18L452.31 364.36L456.84 365.55L461.37 366.77L465.91 368.00L470.44 369.25L474.97 370.52L479.50 371.80L484.04 373.10L488.57 374.42L493.10 375.77L497.63 377.15L502.17 378.55L506.70 379.97L511.23 381.41L515.76 382.88L520.30 384.36L524.83 385.85L529.36 387.36L533.89 388.87L538.43 390.40L542.96 391.92L547.49 393.42L552.03 394.92L556.56 396.42L561.09 397.94L565.62 399.48L570.16 401.06L574.69 402.69L579.22 404.38L583.75 406.14L588.29 407.97L592.82 409.90L597.35 411.91L601.88 414.01L606.42 416.17L610.95 418.41L615.48 420.73L620.01 423.11L624.55 425.57L629.08 428.08L633.61 430.67L638.14 433.32L642.68 436.03L647.21 438.80" stroke="#141414" stroke-width="1.95" fill="none" stroke-linejoin="round"/>
<path d="M103.30 336.00L107.83 336.04L112.37 336.08L116.90 336.13L121.43 336.18L125.96 336.23L130.50 336.29L135.03 336.35L139.56 336.42L144.09 336.50L148.63 336.57L153.16 336.64L157.69 336.70L162.22 336.77L166.76 336.86L171.29 336.97L175.82 337.11L180.35 337.25L184.89 337.42L189.42 337.60L193.95 337.79L198.48 338.00L203.02 338.22L207.55 338.45L212.08 338.68L216.61 338.93L221.15 339.21L225.68 339.52L230.21 339.86L234.74 340.22L239.28 340.60L243.81 341.00L248.34 341.41L252.88 341.84L257.41 342.27L261.94 342.71L266.47 343.16L271.01 343.61L275.54 344.09L280.07 344.58L284.60 345.08L289.14 345.60L293.67 346.14L298.20 346.70L302.73 347.27L307.27 347.85L311.80 348.45L316.33 349.07L320.86 349.70" stroke="#333" stroke-width="1.3" fill="none" stroke-linejoin="round"/>
<path d="M320.86 349.70L325.40 350.35L329.93 351.02L334.46 351.72L338.99 352.44L343.53 353.17L348.06 353.92L352.59 354.69L357.12 355.47L361.66 356.26L366.19 357.07L370.72 357.88L375.25 358.70L379.79 359.53L384.32 360.36L388.85 361.21L393.38 362.06L397.92 362.94L402.45 363.82L406.98 364.73L411.52 365.65L416.05 366.60L420.58 367.57L425.11 368.57L429.65 369.60L434.18 370.66L438.71 371.74L443.24 372.84L447.78 373.98L452.31 375.13L456.84 376.31L461.37 377.51L465.91 378.73L470.44 379.97L474.97 381.23L479.50 382.51L484.04 383.80L488.57 385.12L493.10 386.49L497.63 387.88L502.17 389.31L506.70 390.76L511.23 392.23L515.76 393.71L520.30 395.21L524.83 396.71L529.36 398.21L533.89 399.71L538.43 401.20L542.96 402.70L547.49 404.22L552.03 405.77L556.56 407.35L561.09 408.96L565.62 410.60L570.16 412.28L574.69 414.00L579.22 415.76L583.75 417.56L588.29 419.41L592.82 421.30L597.35 423.25L601.88 425.28L606.42 427.37L610.95 429.52L615.48 431.74L620.01 434.02L624.55 436.36L629.08 438.75L633.61 441.19L638.14 443.68L642.68 446.22L647.21 448.80" stroke="#141414" stroke-width="1.95" fill="none" stroke-linejoin="round"/>
<path d="M103.30 353.70L107.83 353.62L112.37 353.56L116.90 353.51L121.43 353.47L125.96 353.44L130.50 353.42L135.03 353.42L139.56 353.44L144.09 353.46L148.63 353.50L153.16 353.55L157.69 353.60L162.22 353.67L166.76 353.77L171.29 353.91L175.82 354.07L180.35 354.25L184.89 354.45L189.42 354.67L193.95 354.90L198.48 355.14L203.02 355.40L207.55 355.65L212.08 355.91L216.61 356.19L221.15 356.50L225.68 356.84L230.21 357.20L234.74 357.59L239.28 357.99L243.81 358.42L248.34 358.86L252.88 359.31L257.41 359.77L261.94 360.24L266.47 360.71L271.01 361.19L275.54 361.69L280.07 362.20L284.60 362.73L289.14 363.28L293.67 363.84L298.20 364.41L302.73 365.00L307.27 365.61L311.80 366.22L316.33 366.86L320.86 367.50" stroke="#333" stroke-width="1.3" fill="none" stroke-linejoin="round"/>
<path d="M320.86 367.50L325.40 368.14L329.93 368.75L334.46 369.34L338.99 369.91L343.53 370.47L348.06 371.03L352.59 371.59L357.12 372.16L361.66 372.74L366.19 373.34L370.72 373.95L375.25 374.60L379.79 375.26L384.32 375.92L388.85 376.58L393.38 377.24L397.92 377.92L402.45 378.62L406.98 379.35L411.52 380.10L416.05 380.88L420.58 381.71L425.11 382.58L429.65 383.50L434.18 384.47L438.71 385.48L443.24 386.53L447.78 387.62L452.31 388.74L456.84 389.89L461.37 391.06L465.91 392.26L470.44 393.48L474.97 394.71L479.50 395.95L484.04 397.20L488.57 398.48L493.10 399.80L497.63 401.17L502.17 402.56L506.70 403.98L511.23 405.41L515.76 406.85L520.30 408.29L524.83 409.72L529.36 411.14L533.89 412.53L538.43 413.90L542.96 415.25L547.49 416.59L552.03 417.95L556.56 419.31L561.09 420.70L565.62 422.11L570.16 423.56L574.69 425.04L579.22 426.57L583.75 428.15L588.29 429.79L592.82 431.50L597.35 433.27L601.88 435.09L606.42 436.97L610.95 438.91L615.48 440.89L620.01 442.93L624.55 445.02L629.08 447.16L633.61 449.35L638.14 451.58L642.68 453.87L647.21 456.20" stroke="#141414" stroke-width="1.95" fill="none" stroke-linejoin="round"/>
<path d="M103.30 368.50L107.83 368.44L112.37 368.39L116.90 368.36L121.43 368.34L125.96 368.33L130.50 368.33L135.03 368.35L139.56 368.38L144.09 368.42L148.63 368.48L153.16 368.54L157.69 368.60L162.22 368.70L166.76 368.85L171.29 369.05L175.82 369.29L180.35 369.55L184.89 369.84L189.42 370.14L193.95 370.43L198.48 370.73L203.02 371.00L207.55 371.25L212.08 371.48L216.61 371.73L221.15 372.00L225.68 372.28L230.21 372.59L234.74 372.91L239.28 373.25L243.81 373.60L248.34 373.95L252.88 374.32L257.41 374.69L261.94 375.06L266.47 375.43L271.01 375.81L275.54 376.20L280.07 376.61L284.60 377.03L289.14 377.46L293.67 377.91L298.20 378.37L302.73 378.85L307.27 379.34L311.80 379.85L316.33 380.37L320.86 380.90" stroke="#333" stroke-width="1.3" fill="none" stroke-linejoin="round"/>
<path d="M320.86 380.90L325.40 381.45L329.93 382.01L334.46 382.58L338.99 383.17L343.53 383.76L348.06 384.37L352.59 384.99L357.12 385.61L361.66 386.25L366.19 386.89L370.72 387.54L375.25 388.20L379.79 388.86L384.32 389.51L388.85 390.17L393.38 390.83L397.92 391.50L402.45 392.19L406.98 392.90L411.52 393.63L416.05 394.39L420.58 395.19L425.11 396.02L429.65 396.90L434.18 397.81L438.71 398.75L443.24 399.70L447.78 400.68L452.31 401.68L456.84 402.69L461.37 403.73L465.91 404.79L470.44 405.86L474.97 406.96L479.50 408.07L484.04 409.20L488.57 410.36L493.10 411.57L497.63 412.81L502.17 414.08L506.70 415.37L511.23 416.68L515.76 418.01L520.30 419.34L524.83 420.67L529.36 421.99L533.89 423.30L538.43 424.60L542.96 425.90L547.49 427.23L552.03 428.59L556.56 429.97L561.09 431.39L565.62 432.84L570.16 434.32L574.69 435.83L579.22 437.37L583.75 438.95L588.29 440.56L592.82 442.20L597.35 443.89L601.88 445.65L606.42 447.47L610.95 449.36L615.48 451.30L620.01 453.29L624.55 455.33L629.08 457.42L633.61 459.56L638.14 461.73L642.68 463.95L647.21 466.20" stroke="#141414" stroke-width="1.95" fill="none" stroke-linejoin="round"/>
<path d="M103.30 387.20L107.83 387.13L112.37 387.07L116.90 387.00L121.43 386.95L125.96 386.89L130.50 386.85L135.03 386.81L139.56 386.77L144.09 386.75L148.63 386.73L153.16 386.71L157.69 386.70L162.22 386.69L166.76 386.67L171.29 386.66L175.82 386.67L180.35 386.68L184.89 386.72L189.42 386.78L193.95 386.87L198.48 386.99L203.02 387.14L207.55 387.34L212.08 387.56L216.61 387.80L221.15 388.07L225.68 388.37L230.21 388.69L234.74 389.04L239.28 389.41L243.81 389.80L248.34 390.20L252.88 390.61L257.41 391.03L261.94 391.46L266.47 391.90L271.01 392.34L275.54 392.79L280.07 393.26L284.60 393.74L289.14 394.23L293.67 394.73L298.20 395.24L302.73 395.75L307.27 396.28L311.80 396.81L316.33 397.35L320.86 397.90" stroke="#333" stroke-width="1.3" fill="none" stroke-linejoin="round"/>
<path d="M320.86 397.90L325.40 398.44L329.93 398.97L334.46 399.49L338.99 400.00L343.53 400.52L348.06 401.03L352.59 401.54L357.12 402.07L361.66 402.60L366.19 403.15L370.72 403.71L375.25 404.30L379.79 404.90L384.32 405.52L388.85 406.15L393.38 406.79L397.92 407.44L402.45 408.10L406.98 408.77L411.52 409.46L416.05 410.15L420.58 410.86L425.11 411.57L429.65 412.30L434.18 413.03L438.71 413.75L443.24 414.46L447.78 415.18L452.31 415.91L456.84 416.64L461.37 417.39L465.91 418.16L470.44 418.95L474.97 419.77L479.50 420.62L484.04 421.50L488.57 422.44L493.10 423.45L497.63 424.52L502.17 425.65L506.70 426.82L511.23 428.02L515.76 429.25L520.30 430.50L524.83 431.76L529.36 433.02L533.89 434.27L538.43 435.50L542.96 436.73L547.49 437.97L552.03 439.24L556.56 440.52L561.09 441.83L565.62 443.16L570.16 444.52L574.69 445.91L579.22 447.33L583.75 448.78L588.29 450.27L592.82 451.80L597.35 453.37L601.88 455.00L606.42 456.67L610.95 458.38L615.48 460.15L620.01 461.95L624.55 463.80L629.08 465.69L633.61 467.61L638.14 469.57L642.68 471.57L647.21 473.60" stroke="#141414" stroke-width="1.95" fill="none" stroke-linejoin="round"/>
<path d="M103.30 401.90L107.83 401.85L112.37 401.81L116.90 401.77L121.43 401.75L125.96 401.73L130.50 401.71L135.03 401.71L139.56 401.72L144.09 401.73L148.63 401.75L153.16 401.77L157.69 401.80L162.22 401.83L166.76 401.87L171.29 401.93L175.82 401.99L180.35 402.06L184.89 402.15L189.42 402.24L193.95 402.35L198.48 402.46L203.02 402.59L207.55 402.73L212.08 402.87L216.61 403.03L221.15 403.20L225.68 403.40L230.21 403.62L234.74 403.86L239.28 404.11L243.81 404.37L248.34 404.64L252.88 404.93L257.41 405.22L261.94 405.52L266.47 405.82L271.01 406.12L275.54 406.45L280.07 406.78L284.60 407.13L289.14 407.49L293.67 407.87L298.20 408.26L302.73 408.66L307.27 409.08L311.80 409.50L316.33 409.95L320.86 410.40" stroke="#333" stroke-width="1.3" fill="none" stroke-linejoin="round"/>
<path d="M320.86 410.40L325.40 410.87L329.93 411.37L334.46 411.88L338.99 412.42L343.53 412.97L348.06 413.54L352.59 414.13L357.12 414.74L361.66 415.36L366.19 415.99L370.72 416.64L375.25 417.30L379.79 417.98L384.32 418.68L388.85 419.40L393.38 420.14L397.92 420.89L402.45 421.66L406.98 422.44L411.52 423.22L416.05 424.02L420.58 424.81L425.11 425.61L429.65 426.40L434.18 427.20L438.71 428.02L443.24 428.86L447.78 429.71L452.31 430.58L456.84 431.46L461.37 432.35L465.91 433.25L470.44 434.15L474.97 435.06L479.50 435.98L484.04 436.90L488.57 437.82L493.10 438.76L497.63 439.71L502.17 440.66L506.70 441.64L511.23 442.62L515.76 443.62L520.30 444.64L524.83 445.68L529.36 446.73L533.89 447.80L538.43 448.90L542.96 450.02L547.49 451.17L552.03 452.35L556.56 453.55L561.09 454.78L565.62 456.03L570.16 457.30L574.69 458.59L579.22 459.89L583.75 461.21L588.29 462.55L592.82 463.90L597.35 465.27L601.88 466.66L606.42 468.07L610.95 469.50L615.48 470.96L620.01 472.43L624.55 473.93L629.08 475.45L633.61 476.98L638.14 478.54L642.68 480.11L647.21 481.70" stroke="#141414" stroke-width="1.95" fill="none" stroke-linejoin="round"/>
<path d="M103.30 417.20L107.83 417.20L112.37 417.20L116.90 417.22L121.43 417.25L125.96 417.28L130.50 417.33L135.03 417.39L139.56 417.45L144.09 417.53L148.63 417.62L153.16 417.71L157.69 417.80L162.22 417.91L166.76 418.05L171.29 418.22L175.82 418.40L180.35 418.61L184.89 418.82L189.42 419.05L193.95 419.27L198.48 419.50L203.02 419.73L207.55 419.94L212.08 420.16L216.61 420.38L221.15 420.62L225.68 420.88L230.21 421.16L234.74 421.45L239.28 421.76L243.81 422.07L248.34 422.39L252.88 422.72L257.41 423.06L261.94 423.39L266.47 423.73L271.01 424.08L275.54 424.43L280.07 424.80L284.60 425.17L289.14 425.55L293.67 425.95L298.20 426.35L302.73 426.76L307.27 427.18L311.80 427.61L316.33 428.05L320.86 428.50" stroke="#333" stroke-width="1.3" fill="none" stroke-linejoin="round"/>
<path d="M320.86 428.50L325.40 428.95L329.93 429.41L334.46 429.87L338.99 430.33L343.53 430.80L348.06 431.29L352.59 431.78L357.12 432.29L361.66 432.81L366.19 433.36L370.72 433.92L375.25 434.50L379.79 435.11L384.32 435.73L388.85 436.38L393.38 437.04L397.92 437.71L402.45 438.40L406.98 439.08L411.52 439.77L416.05 440.46L420.58 441.15L425.11 441.83L429.65 442.50L434.18 443.16L438.71 443.82L443.24 444.47L447.78 445.12L452.31 445.77L456.84 446.43L461.37 447.10L465.91 447.77L470.44 448.45L474.97 449.15L479.50 449.87L484.04 450.60L488.57 451.35L493.10 452.11L497.63 452.88L502.17 453.66L506.70 454.46L511.23 455.27L515.76 456.10L520.30 456.94L524.83 457.80L529.36 458.68L533.89 459.58L538.43 460.50L542.96 461.44L547.49 462.41L552.03 463.40L556.56 464.41L561.09 465.44L565.62 466.50L570.16 467.58L574.69 468.68L579.22 469.80L583.75 470.95L588.29 472.11L592.82 473.30L597.35 474.50L601.88 475.71L606.42 476.92L610.95 478.14L615.48 479.37L620.01 480.61L624.55 481.87L629.08 483.14L633.61 484.43L638.14 485.73L642.68 487.06L647.21 488.40" stroke="#141414" stroke-width="1.95" fill="none" stroke-linejoin="round"/>
<path d="M103.30 432.30L107.83 432.38L112.37 432.47L116.90 432.56L121.43 432.64L125.96 432.73L130.50 432.81L135.03 432.89L139.56 432.96L144.09 433.04L148.63 433.10L153.16 433.16L157.69 433.20L162.22 433.24L166.76 433.29L171.29 433.34L175.82 433.41L180.35 433.49L184.89 433.58L189.42 433.68L193.95 433.79L198.48 433.92L203.02 434.07L207.55 434.23L212.08 434.41L216.61 434.59L221.15 434.81L225.68 435.04L230.21 435.29L234.74 435.57L239.28 435.85L243.81 436.15L248.34 436.46L252.88 436.79L257.41 437.11L261.94 437.45L266.47 437.78L271.01 438.13L275.54 438.48L280.07 438.85L284.60 439.22L289.14 439.60L293.67 439.99L298.20 440.39L302.73 440.80L307.27 441.22L311.80 441.64L316.33 442.07L320.86 442.50" stroke="#333" stroke-width="1.3" fill="none" stroke-linejoin="round"/>
<path d="M320.86 442.50L325.40 442.94L329.93 443.40L334.46 443.87L338.99 444.36L343.53 444.85L348.06 445.34L352.59 445.85L357.12 446.36L361.66 446.87L366.19 447.38L370.72 447.89L375.25 448.40L379.79 448.88L384.32 449.32L388.85 449.73L393.38 450.11L397.92 450.48L402.45 450.86L406.98 451.24L411.52 451.65L416.05 452.08L420.58 452.57L425.11 453.10L429.65 453.70L434.18 454.35L438.71 455.03L443.24 455.73L447.78 456.46L452.31 457.20L456.84 457.96L461.37 458.73L465.91 459.50L470.44 460.28L474.97 461.06L479.50 461.83L484.04 462.60L488.57 463.37L493.10 464.15L497.63 464.94L502.17 465.74L506.70 466.56L511.23 467.39L515.76 468.23L520.30 469.08L524.83 469.94L529.36 470.81L533.89 471.70L538.43 472.60L542.96 473.51L547.49 474.43L552.03 475.36L556.56 476.31L561.09 477.27L565.62 478.26L570.16 479.26L574.69 480.29L579.22 481.35L583.75 482.43L588.29 483.55L592.82 484.70L597.35 485.89L601.88 487.11L606.42 488.36L610.95 489.65L615.48 490.98L620.01 492.33L624.55 493.72L629.08 495.14L633.61 496.59L638.14 498.06L642.68 499.57L647.21 501.10" stroke="#141414" stroke-width="1.95" fill="none" stroke-linejoin="round"/>
<path d="M103.30 449.50L107.83 449.62L112.37 449.73L116.90 449.83L121.43 449.93L125.96 450.03L130.50 450.12L135.03 450.20L139.56 450.28L144.09 450.35L148.63 450.41L153.16 450.46L157.69 450.50L162.22 450.53L166.76 450.54L171.29 450.56L175.82 450.57L180.35 450.59L184.89 450.61L189.42 450.65L193.95 450.71L198.48 450.79L203.02 450.89L207.55 451.03L212.08 451.19L216.61 451.39L221.15 451.63L225.68 451.90L230.21 452.20L234.74 452.53L239.28 452.89L243.81 453.27L248.34 453.66L252.88 454.07L257.41 454.49L261.94 454.91L266.47 455.34L271.01 455.78L275.54 456.22L280.07 456.66L284.60 457.11L289.14 457.55L293.67 458.00L298.20 458.44L302.73 458.87L307.27 459.30L311.80 459.71L316.33 460.11L320.86 460.50" stroke="#333" stroke-width="1.3" fill="none" stroke-linejoin="round"/>
<path d="M320.86 460.50L325.40 460.87L329.93 461.23L334.46 461.59L338.99 461.93L343.53 462.28L348.06 462.62L352.59 462.95L357.12 463.29L361.66 463.64L366.19 463.98L370.72 464.34L375.25 464.70L379.79 465.06L384.32 465.40L388.85 465.73L393.38 466.06L397.92 466.39L402.45 466.73L406.98 467.08L411.52 467.46L416.05 467.86L420.58 468.30L425.11 468.78L429.65 469.30L434.18 469.85L438.71 470.42L443.24 470.99L447.78 471.57L452.31 472.15L456.84 472.74L461.37 473.34L465.91 473.94L470.44 474.55L474.97 475.16L479.50 475.78L484.04 476.40L488.57 477.01L493.10 477.61L497.63 478.20L502.17 478.78L506.70 479.36L511.23 479.96L515.76 480.56L520.30 481.19L524.83 481.84L529.36 482.52L533.89 483.24L538.43 484.00L542.96 484.81L547.49 485.65L552.03 486.54L556.56 487.45L561.09 488.39L565.62 489.36L570.16 490.34L574.69 491.34L579.22 492.35L583.75 493.37L588.29 494.39L592.82 495.40L597.35 496.43L601.88 497.48L606.42 498.55L610.95 499.65L615.48 500.77L620.01 501.91L624.55 503.07L629.08 504.25L633.61 505.44L638.14 506.65L642.68 507.87L647.21 509.10" stroke="#141414" stroke-width="1.95" fill="none" stroke-linejoin="round"/>
<path d="M103.30 462.10L107.83 462.14L112.37 462.17L116.90 462.22L121.43 462.26L125.96 462.30L130.50 462.35L135.03 462.39L139.56 462.44L144.09 462.49L148.63 462.53L153.16 462.57L157.69 462.60L162.22 462.63L166.76 462.68L171.29 462.73L175.82 462.80L180.35 462.88L184.89 462.96L189.42 463.06L193.95 463.16L198.48 463.27L203.02 463.40L207.55 463.53L212.08 463.67L216.61 463.82L221.15 463.99L225.68 464.19L230.21 464.40L234.74 464.63L239.28 464.87L243.81 465.13L248.34 465.39L252.88 465.67L257.41 465.95L261.94 466.23L266.47 466.52L271.01 466.81L275.54 467.11L280.07 467.41L284.60 467.73L289.14 468.04L293.67 468.37L298.20 468.70L302.73 469.03L307.27 469.37L311.80 469.71L316.33 470.06L320.86 470.40" stroke="#333" stroke-width="1.3" fill="none" stroke-linejoin="round"/>
<path d="M320.86 470.40L325.40 470.75L329.93 471.13L334.46 471.51L338.99 471.91L343.53 472.33L348.06 472.75L352.59 473.18L357.12 473.62L361.66 474.06L366.19 474.51L370.72 474.95L375.25 475.40L379.79 475.83L384.32 476.23L388.85 476.60L393.38 476.96L397.92 477.31L402.45 477.66L406.98 478.02L411.52 478.38L416.05 478.77L420.58 479.18L425.11 479.62L429.65 480.10L434.18 480.60L438.71 481.11L443.24 481.61L447.78 482.12L452.31 482.64L456.84 483.16L461.37 483.69L465.91 484.23L470.44 484.78L474.97 485.34L479.50 485.91L484.04 486.50L488.57 487.10L493.10 487.72L497.63 488.35L502.17 489.00L506.70 489.66L511.23 490.33L515.76 491.02L520.30 491.73L524.83 492.45L529.36 493.18L533.89 493.93L538.43 494.70L542.96 495.49L547.49 496.31L552.03 497.16L556.56 498.03L561.09 498.92L565.62 499.82L570.16 500.74L574.69 501.67L579.22 502.60L583.75 503.54L588.29 504.47L592.82 505.40L597.35 506.32L601.88 507.24L606.42 508.16L610.95 509.08L615.48 510.00L620.01 510.92L624.55 511.85L629.08 512.77L633.61 513.70L638.14 514.63L642.68 515.56L647.21 516.50" stroke="#141414" stroke-width="1.95" fill="none" stroke-linejoin="round"/>
<path d="M103.30 483.50L107.83 483.53L112.37 483.56L116.90 483.59L121.43 483.62L125.96 483.66L130.50 483.70L135.03 483.75L139.56 483.80L144.09 483.85L148.63 483.90L153.16 483.95L157.69 484.00L162.22 484.06L166.76 484.12L171.29 484.19L175.82 484.27L180.35 484.36L184.89 484.46L189.42 484.56L193.95 484.67L198.48 484.78L203.02 484.90L207.55 485.02L212.08 485.15L216.61 485.29L221.15 485.44L225.68 485.60L230.21 485.78L234.74 485.96L239.28 486.16L243.81 486.36L248.34 486.57L252.88 486.78L257.41 487.00L261.94 487.22L266.47 487.44L271.01 487.66L275.54 487.88L280.07 488.11L284.60 488.35L289.14 488.58L293.67 488.82L298.20 489.07L302.73 489.31L307.27 489.56L311.80 489.80L316.33 490.05L320.86 490.30" stroke="#333" stroke-width="1.3" fill="none" stroke-linejoin="round"/>
<path d="M320.86 490.30L325.40 490.55L329.93 490.81L334.46 491.07L338.99 491.34L343.53 491.61L348.06 491.89L352.59 492.17L357.12 492.46L361.66 492.74L366.19 493.03L370.72 493.31L375.25 493.60L379.79 493.88L384.32 494.16L388.85 494.43L393.38 494.70L397.92 494.96L402.45 495.23L406.98 495.50L411.52 495.78L416.05 496.07L420.58 496.37L425.11 496.68L429.65 497.00L434.18 497.33L438.71 497.66L443.24 498.00L447.78 498.33L452.31 498.67L456.84 499.01L461.37 499.36L465.91 499.71L470.44 500.07L474.97 500.44L479.50 500.81L484.04 501.20L488.57 501.59L493.10 501.99L497.63 502.40L502.17 502.81L506.70 503.24L511.23 503.67L515.76 504.11L520.30 504.56L524.83 505.03L529.36 505.50L533.89 505.99L538.43 506.50L542.96 507.03L547.49 507.59L552.03 508.18L556.56 508.79L561.09 509.43L565.62 510.08L570.16 510.74L574.69 511.41L579.22 512.08L583.75 512.76L588.29 513.43L592.82 514.10L597.35 514.77L601.88 515.44L606.42 516.12L610.95 516.80L615.48 517.50L620.01 518.19L624.55 518.90L629.08 519.61L633.61 520.32L638.14 521.04L642.68 521.77L647.21 522.50" stroke="#141414" stroke-width="1.95" fill="none" stroke-linejoin="round"/>
<path d="M103.30 494.30L107.83 494.38L112.37 494.47L116.90 494.55L121.43 494.64L125.96 494.73L130.50 494.82L135.03 494.92L139.56 495.01L144.09 495.11L148.63 495.21L153.16 495.30L157.69 495.40L162.22 495.50L166.76 495.61L171.29 495.73L175.82 495.85L180.35 495.99L184.89 496.12L189.42 496.26L193.95 496.40L198.48 496.55L203.02 496.69L207.55 496.83L212.08 496.97L216.61 497.11L221.15 497.27L225.68 497.43L230.21 497.61L234.74 497.79L239.28 497.98L243.81 498.17L248.34 498.37L252.88 498.57L257.41 498.78L261.94 498.98L266.47 499.18L271.01 499.39L275.54 499.60L280.07 499.82L284.60 500.04L289.14 500.26L293.67 500.48L298.20 500.71L302.73 500.95L307.27 501.18L311.80 501.42L316.33 501.66L320.86 501.90" stroke="#333" stroke-width="1.3" fill="none" stroke-linejoin="round"/>
<path d="M320.86 501.90L325.40 502.14L329.93 502.39L334.46 502.64L338.99 502.89L343.53 503.15L348.06 503.41L352.59 503.67L357.12 503.93L361.66 504.19L366.19 504.46L370.72 504.73L375.25 505.00L379.79 505.27L384.32 505.53L388.85 505.79L393.38 506.05L397.92 506.31L402.45 506.58L406.98 506.85L411.52 507.13L416.05 507.42L420.58 507.73L425.11 508.06L429.65 508.40L434.18 508.75L438.71 509.11L443.24 509.46L447.78 509.82L452.31 510.18L456.84 510.55L461.37 510.92L465.91 511.30L470.44 511.69L474.97 512.08L479.50 512.48L484.04 512.90L488.57 513.33L493.10 513.78L497.63 514.25L502.17 514.73L506.70 515.22L511.23 515.73L515.76 516.23L520.30 516.75L524.83 517.26L529.36 517.78L533.89 518.29L538.43 518.80L542.96 519.30L547.49 519.79L552.03 520.28L556.56 520.77L561.09 521.26L565.62 521.75L570.16 522.25L574.69 522.76L579.22 523.27L583.75 523.80L588.29 524.34L592.82 524.90L597.35 525.47L601.88 526.06L606.42 526.66L610.95 527.28L615.48 527.90L620.01 528.54L624.55 529.19L629.08 529.85L633.61 530.52L638.14 531.20L642.68 531.90L647.21 532.60" stroke="#141414" stroke-width="1.95" fill="none" stroke-linejoin="round"/>
<path d="M103.30 515.40L107.83 515.42L112.37 515.45L116.90 515.48L121.43 515.51L125.96 515.54L130.50 515.57L135.03 515.61L139.56 515.64L144.09 515.68L148.63 515.72L153.16 515.76L157.69 515.80L162.22 515.84L166.76 515.89L171.29 515.94L175.82 516.00L180.35 516.06L184.89 516.13L189.42 516.20L193.95 516.27L198.48 516.35L203.02 516.43L207.55 516.52L212.08 516.61L216.61 516.71L221.15 516.82L225.68 516.93L230.21 517.06L234.74 517.20L239.28 517.34L243.81 517.49L248.34 517.64L252.88 517.79L257.41 517.95L261.94 518.11L266.47 518.27L271.01 518.43L275.54 518.59L280.07 518.75L284.60 518.91L289.14 519.08L293.67 519.24L298.20 519.41L302.73 519.57L307.27 519.73L311.80 519.89L316.33 520.05L320.86 520.20" stroke="#333" stroke-width="1.3" fill="none" stroke-linejoin="round"/>
<path d="M320.86 520.20L325.40 520.36L329.93 520.52L334.46 520.69L338.99 520.86L343.53 521.04L348.06 521.23L352.59 521.42L357.12 521.61L361.66 521.80L366.19 522.00L370.72 522.20L375.25 522.40L379.79 522.60L384.32 522.82L388.85 523.03L393.38 523.26L397.92 523.49L402.45 523.72L406.98 523.95L411.52 524.19L416.05 524.42L420.58 524.65L425.11 524.88L429.65 525.10L434.18 525.30L438.71 525.48L443.24 525.63L447.78 525.76L452.31 525.89L456.84 526.01L461.37 526.13L465.91 526.26L470.44 526.41L474.97 526.57L479.50 526.77L484.04 527.00L488.57 527.26L493.10 527.55L497.63 527.85L502.17 528.17L506.70 528.51L511.23 528.85L515.76 529.20L520.30 529.55L524.83 529.90L529.36 530.24L533.89 530.58L538.43 530.90L542.96 531.22L547.49 531.53L552.03 531.85L556.56 532.17L561.09 532.50L565.62 532.83L570.16 533.16L574.69 533.50L579.22 533.84L583.75 534.19L588.29 534.54L592.82 534.90L597.35 535.26L601.88 535.62L606.42 535.99L610.95 536.35L615.48 536.71L620.01 537.07L624.55 537.43L629.08 537.80L633.61 538.17L638.14 538.54L642.68 538.92L647.21 539.30" stroke="#141414" stroke-width="1.95" fill="none" stroke-linejoin="round"/>
<path d="M103.30 525.50L107.83 525.57L112.37 525.63L116.90 525.70L121.43 525.76L125.96 525.82L130.50 525.88L135.03 525.94L139.56 526.00L144.09 526.06L148.63 526.11L153.16 526.16L157.69 526.20L162.22 526.24L166.76 526.29L171.29 526.33L175.82 526.39L180.35 526.44L184.89 526.50L189.42 526.56L193.95 526.62L198.48 526.68L203.02 526.75L207.55 526.81L212.08 526.88L216.61 526.95L221.15 527.03L225.68 527.11L230.21 527.19L234.74 527.28L239.28 527.37L243.81 527.46L248.34 527.56L252.88 527.66L257.41 527.76L261.94 527.87L266.47 527.97L271.01 528.07L275.54 528.18L280.07 528.30L284.60 528.42L289.14 528.54L293.67 528.66L298.20 528.79L302.73 528.92L307.27 529.06L311.80 529.20L316.33 529.35L320.86 529.50" stroke="#333" stroke-width="1.3" fill="none" stroke-linejoin="round"/>
<path d="M320.86 529.50L325.40 529.66L329.93 529.82L334.46 530.00L338.99 530.18L343.53 530.37L348.06 530.57L352.59 530.77L357.12 530.97L361.66 531.18L366.19 531.38L370.72 531.59L375.25 531.80L379.79 532.01L384.32 532.23L388.85 532.46L393.38 532.70L397.92 532.94L402.45 533.18L406.98 533.41L411.52 533.65L416.05 533.88L420.58 534.09L425.11 534.30L429.65 534.50L434.18 534.67L438.71 534.82L443.24 534.95L447.78 535.06L452.31 535.16L456.84 535.26L461.37 535.36L465.91 535.47L470.44 535.60L474.97 535.74L479.50 535.90L484.04 536.10L488.57 536.33L493.10 536.58L497.63 536.86L502.17 537.15L506.70 537.45L511.23 537.77L515.76 538.08L520.30 538.40L524.83 538.72L529.36 539.03L533.89 539.32L538.43 539.60L542.96 539.87L547.49 540.14L552.03 540.42L556.56 540.69L561.09 540.97L565.62 541.25L570.16 541.53L574.69 541.82L579.22 542.11L583.75 542.40L588.29 542.70L592.82 543.00L597.35 543.30L601.88 543.58L606.42 543.85L610.95 544.11L615.48 544.36L620.01 544.61L624.55 544.84L629.08 545.08L633.61 545.31L638.14 545.54L642.68 545.77L647.21 546.00" stroke="#141414" stroke-width="1.95" fill="none" stroke-linejoin="round"/>
<text class="s l" transform="translate(161.20 91.70) scale(1.1 1)" font-size="14.3">-140</text>
<text class="s l" transform="translate(161.20 107.80) scale(1.1 1)" font-size="14.3">-140-2</text>
<text class="s l" transform="translate(161.20 124.90) scale(1.1 1)" font-size="14.3">-130</text>
<text class="s l" transform="translate(161.20 141.00) scale(1.1 1)" font-size="14.3">-130-2</text>
<text class="s l" transform="translate(161.20 159.00) scale(1.1 1)" font-size="14.3">-120</text>
<text class="s l" transform="translate(161.20 173.50) scale(1.1 1)" font-size="14.3">-120-2</text>
<text class="s l" transform="translate(161.20 190.00) scale(1.1 1)" font-size="14.3">-110</text>
<text class="s l" transform="translate(161.20 205.40) scale(1.1 1)" font-size="14.3">-110-2</text>
<text class="s l" transform="translate(161.20 221.40) scale(1.1 1)" font-size="14.3">-100</text>
<text class="s l" transform="translate(161.20 236.50) scale(1.1 1)" font-size="14.3">-100-2</text>
<text class="s l" transform="translate(161.20 255.90) scale(1.1 1)" font-size="14.3">-90</text>
<text class="s l" transform="translate(161.20 271.40) scale(1.1 1)" font-size="14.3">-90-2</text>
<text class="s l" transform="translate(161.20 289.20) scale(1.1 1)" font-size="14.3">-80</text>
<text class="s l" transform="translate(161.20 305.80) scale(1.1 1)" font-size="14.3">-80-2</text>
<text class="s l" transform="translate(161.20 321.60) scale(1.1 1)" font-size="14.3">-70</text>
<text class="s l" transform="translate(161.20 336.40) scale(1.1 1)" font-size="14.3">-70-2</text>
<text class="s l" transform="translate(161.20 349.80) scale(1.1 1)" font-size="14.3">-60</text>
<text class="s l" transform="translate(161.20 367.20) scale(1.1 1)" font-size="14.3">-60-2</text>
<text class="s l" transform="translate(161.20 384.00) scale(1.1 1)" font-size="14.3">-50</text>
<text class="s l" transform="translate(161.20 399.40) scale(1.1 1)" font-size="14.3">-50-2</text>
<text class="s l" transform="translate(161.20 416.20) scale(1.1 1)" font-size="14.3">-40</text>
<text class="s l" transform="translate(161.20 432.20) scale(1.1 1)" font-size="14.3">-40-2</text>
<text class="s l" transform="translate(161.20 448.20) scale(1.1 1)" font-size="14.3">-30</text>
<text class="s l" transform="translate(161.20 462.60) scale(1.1 1)" font-size="14.3">-30-2</text>
<text class="s l" transform="translate(161.20 481.30) scale(1.1 1)" font-size="14.3">-20</text>
<text class="s l" transform="translate(161.20 495.00) scale(1.1 1)" font-size="14.3">-20-2</text>
<text class="s l" transform="translate(161.20 515.10) scale(1.1 1)" font-size="14.3">-10</text>
<text class="s l" transform="translate(161.20 526.20) scale(1.04 1)" font-size="14.3">-10-1</text>
<path d="M55.6 43V552" stroke="#464646" stroke-width="1.45" fill="none"/>
<text class="s" transform="translate(33.60 557.70) scale(1.05 1)" font-size="16.0" text-anchor="middle">0.0</text>
<text class="s" transform="translate(33.60 523.53) scale(1.05 1)" font-size="16.07" text-anchor="middle">0.2</text>
<text class="s" transform="translate(33.60 489.36) scale(1.05 1)" font-size="16.14" text-anchor="middle">0.4</text>
<text class="s" transform="translate(33.60 455.19) scale(1.05 1)" font-size="16.21" text-anchor="middle">0.6</text>
<text class="s" transform="translate(33.60 421.02) scale(1.05 1)" font-size="16.28" text-anchor="middle">0.8</text>
<text class="s" transform="translate(33.60 386.85) scale(1.05 1)" font-size="16.35" text-anchor="middle">1.0</text>
<text class="s" transform="translate(33.60 352.68) scale(1.05 1)" font-size="16.42" text-anchor="middle">1.2</text>
<text class="s" transform="translate(33.60 318.51) scale(1.05 1)" font-size="16.49" text-anchor="middle">1.4</text>
<text class="s" transform="translate(33.60 284.34) scale(1.05 1)" font-size="16.56" text-anchor="middle">1.6</text>
<text class="s" transform="translate(33.60 250.17) scale(1.05 1)" font-size="16.63" text-anchor="middle">1.8</text>
<text class="s" transform="translate(33.60 216.00) scale(1.05 1)" font-size="16.7" text-anchor="middle">2.0</text>
<text class="s" transform="translate(33.60 181.83) scale(1.05 1)" font-size="16.77" text-anchor="middle">2.2</text>
<text class="s" transform="translate(33.60 147.66) scale(1.05 1)" font-size="16.84" text-anchor="middle">2.4</text>
<text class="s" transform="translate(33.60 113.49) scale(1.05 1)" font-size="16.91" text-anchor="middle">2.6</text>
<path d="M46.8 551.80H55.6M46.8 517.60H55.6M46.8 483.40H55.6M46.8 449.20H55.6M46.8 415.00H55.6M46.8 380.80H55.6M46.8 346.60H55.6M46.8 312.40H55.6M46.8 278.20H55.6M46.8 244.00H55.6M46.8 209.80H55.6M46.8 175.60H55.6M46.8 141.40H55.6M46.8 107.20H55.6" stroke="#464646" stroke-width="1.45" fill="none"/>
<text class="s" transform="translate(84.40 558.60) scale(1.05 1)" font-size="16.0" text-anchor="middle">0</text>
<text class="s" transform="translate(84.40 524.66) scale(1.05 1)" font-size="16.07" text-anchor="middle">20</text>
<text class="s" transform="translate(84.40 490.72) scale(1.05 1)" font-size="16.13" text-anchor="middle">40</text>
<text class="s" transform="translate(84.40 456.78) scale(1.05 1)" font-size="16.2" text-anchor="middle">60</text>
<text class="s" transform="translate(84.40 422.84) scale(1.05 1)" font-size="16.26" text-anchor="middle">80</text>
<text class="s" transform="translate(84.40 388.90) scale(1.05 1)" font-size="16.32" text-anchor="middle">100</text>
<text class="s" transform="translate(84.40 354.96) scale(1.05 1)" font-size="16.39" text-anchor="middle">120</text>
<text class="s" transform="translate(84.40 321.02) scale(1.05 1)" font-size="16.45" text-anchor="middle">140</text>
<text class="s" transform="translate(84.40 287.08) scale(1.05 1)" font-size="16.52" text-anchor="middle">160</text>
<text class="s" transform="translate(84.40 253.14) scale(1.05 1)" font-size="16.59" text-anchor="middle">180</text>
<text class="s" transform="translate(84.40 219.20) scale(1.05 1)" font-size="16.65" text-anchor="middle">200</text>
<text class="s" transform="translate(84.40 185.26) scale(1.05 1)" font-size="16.71" text-anchor="middle">220</text>
<text class="s" transform="translate(84.40 151.32) scale(1.05 1)" font-size="16.78" text-anchor="middle">240</text>
<text class="s" transform="translate(84.40 117.38) scale(1.05 1)" font-size="16.84" text-anchor="middle">260</text>
<text class="s" transform="translate(84.40 83.44) scale(1.05 1)" font-size="16.91" text-anchor="middle">280</text>
<text class="a m" transform="translate(58.90 19.70) scale(1.1 1)" font-size="16" text-anchor="middle">P</text>
<text class="a m" transform="translate(91.00 19.70) scale(1.02 1)" font-size="16" text-anchor="middle">H</text>
<text class="a" transform="translate(56.20 36.90) scale(1.01 1)" font-size="16.5" text-anchor="middle">[Mpa]</text>
<text class="a" transform="translate(90.70 36.90) scale(1.09 1)" font-size="16.5" text-anchor="middle">[m]</text>
<text class="a t" transform="translate(702.20 35.40) scale(1.046 1)" font-size="16.4" text-anchor="end">[50HZ]CDL/CDLF32</text>
<text class="s" transform="translate(102.80 571.70) scale(1.05 1)" font-size="15.7" text-anchor="middle">0</text>
<text class="s" transform="translate(155.10 571.70) scale(1.05 1)" font-size="15.7" text-anchor="middle">4</text>
<text class="s" transform="translate(208.00 571.70) scale(1.05 1)" font-size="15.7" text-anchor="middle">8</text>
<text class="s" transform="translate(261.50 571.70) scale(1.05 1)" font-size="15.7" text-anchor="middle">12</text>
<text class="s" transform="translate(317.80 571.70) scale(1.05 1)" font-size="15.7" text-anchor="middle">16</text>
<text class="s" transform="translate(373.50 571.70) scale(1.05 1)" font-size="15.7" text-anchor="middle">20</text>
<text class="s" transform="translate(429.40 571.70) scale(1.05 1)" font-size="15.7" text-anchor="middle">24</text>
<text class="s" transform="translate(482.40 571.70) scale(1.05 1)" font-size="15.7" text-anchor="middle">28</text>
<text class="s" transform="translate(537.30 571.70) scale(1.05 1)" font-size="15.7" text-anchor="middle">32</text>
<text class="s" transform="translate(589.70 571.70) scale(1.05 1)" font-size="15.7" text-anchor="middle">36</text>
<text class="s" transform="translate(645.80 571.70) scale(1.05 1)" font-size="15.7" text-anchor="middle">40</text>
<text class="a" transform="translate(664.0 571.40)" font-size="17.6">Q [m<tspan dy="-7.3" font-size="8.8">3</tspan><tspan dy="7.3">/h]</tspan></text>
<path d="M102.30 639.10V766.50M156.50 639.10V766.50M209.90 639.10V766.50M264.80 639.10V766.50M319.10 639.10V766.50M373.70 639.10V766.50M428.10 639.10V766.50M482.30 639.10V766.50M537.50 639.10V766.50M591.90 639.10V766.50M646.50 639.10V766.50M701.00 639.10V766.50M102.30 639.10H701.00M102.30 664.20H701.00M102.30 689.80H701.00M102.30 715.90H701.00M102.30 741.50H701.00M102.30 766.50H701.00" stroke="#464646" stroke-width="1.45" fill="none"/>
<path d="M102.30 766.30L106.91 763.36L111.53 760.49L116.14 757.68L120.75 754.94L125.36 752.27L129.98 749.68L134.59 747.17L139.20 744.74L143.81 742.36L148.43 740.03L153.04 737.72L157.64 735.43L162.18 733.13L166.73 730.85L171.27 728.61L175.81 726.41L180.36 724.29L184.90 722.24L189.45 720.24L193.99 718.29L198.54 716.40L203.08 714.57L207.63 712.83L212.24 711.19L216.91 709.64L221.58 708.15L226.25 706.72L230.93 705.32L235.60 703.92L240.27 702.52L244.94 701.10L249.61 699.69L254.29 698.32L258.96 697.01L263.63 695.79L268.27 694.66L272.89 693.57L277.51 692.53L282.13 691.51L286.75 690.53L291.37 689.58L295.99 688.65L300.61 687.75L305.24 686.86L309.86 686.00L314.48 685.14L319.10 684.30" stroke="#333" stroke-width="1.3" fill="none" stroke-linejoin="round"/>
<path d="M319.10 684.30L323.71 683.46L328.33 682.62L332.94 681.78L337.56 680.95L342.17 680.13L346.78 679.34L351.40 678.57L356.01 677.84L360.63 677.15L365.24 676.52L369.85 675.94L374.47 675.42L379.06 674.93L383.66 674.45L388.26 673.99L392.85 673.54L397.45 673.12L402.05 672.72L406.65 672.35L411.24 672.01L415.84 671.71L420.44 671.45L425.04 671.22L429.63 671.04L434.21 670.87L438.79 670.71L443.37 670.58L447.95 670.47L452.53 670.41L457.11 670.40L461.69 670.44L466.27 670.51L470.85 670.60L475.43 670.72L480.01 670.84L484.63 670.97L489.30 671.13L493.96 671.34L498.63 671.58L503.29 671.85L507.96 672.15L512.62 672.46L517.29 672.79L521.95 673.14L526.62 673.49L531.28 673.84L535.95 674.19L540.56 674.53L545.16 674.87L549.76 675.23L554.36 675.59L558.95 675.97L563.55 676.36L568.15 676.77L572.75 677.20L577.34 677.66L581.94 678.14L586.54 678.66L591.13 679.21L595.75 679.80L600.36 680.46L604.97 681.18L609.59 681.95L614.20 682.78L618.82 683.67L623.43 684.59L628.04 685.56L632.66 686.57L637.27 687.62L641.89 688.69L646.50 689.80" stroke="#141414" stroke-width="1.95" fill="none" stroke-linejoin="round"/>
<path d="M102.30 730.00L106.91 729.50L111.53 729.00L116.14 728.50L120.75 728.00L125.36 727.51L129.98 727.01L134.59 726.52L139.20 726.03L143.81 725.54L148.43 725.05L153.04 724.56L157.64 724.08L162.18 723.59L166.73 723.10L171.27 722.61L175.81 722.12L180.36 721.64L184.90 721.15L189.45 720.67L193.99 720.20L198.54 719.73L203.08 719.27L207.63 718.82L212.24 718.38L216.91 717.95L221.58 717.52L226.25 717.10L230.93 716.69L235.60 716.28L240.27 715.88L244.94 715.47L249.61 715.08L254.29 714.68L258.96 714.29L263.63 713.90L268.27 713.51L272.89 713.12L277.51 712.73L282.13 712.34L286.75 711.95L291.37 711.57L295.99 711.19L300.61 710.82L305.24 710.45L309.86 710.09L314.48 709.74L319.10 709.40" stroke="#333" stroke-width="1.3" fill="none" stroke-linejoin="round"/>
<path d="M319.10 709.40L323.71 709.07L328.33 708.75L332.94 708.43L337.56 708.13L342.17 707.82L346.78 707.52L351.40 707.23L356.01 706.93L360.63 706.64L365.24 706.34L369.85 706.05L374.47 705.75L379.06 705.45L383.66 705.15L388.26 704.86L392.85 704.56L397.45 704.26L402.05 703.97L406.65 703.68L411.24 703.38L415.84 703.09L420.44 702.79L425.04 702.50L429.63 702.20L434.21 701.91L438.79 701.61L443.37 701.31L447.95 701.01L452.53 700.72L457.11 700.42L461.69 700.12L466.27 699.83L470.85 699.53L475.43 699.24L480.01 698.95L484.63 698.65L489.30 698.36L493.96 698.05L498.63 697.75L503.29 697.45L507.96 697.15L512.62 696.85L517.29 696.55L521.95 696.27L526.62 695.99L531.28 695.73L535.95 695.48L540.56 695.24L545.16 695.01L549.76 694.78L554.36 694.55L558.95 694.33L563.55 694.11L568.15 693.90L572.75 693.71L577.34 693.52L581.94 693.34L586.54 693.18L591.13 693.02L595.75 692.88L600.36 692.74L604.97 692.61L609.59 692.48L614.20 692.36L618.82 692.24L623.43 692.13L628.04 692.03L632.66 691.93L637.27 691.85L641.89 691.77L646.50 691.70" stroke="#141414" stroke-width="1.95" fill="none" stroke-linejoin="round"/>
<path d="M102.30 742.30L106.91 741.85L111.53 741.41L116.14 740.97L120.75 740.53L125.36 740.09L129.98 739.66L134.59 739.22L139.20 738.79L143.81 738.37L148.43 737.94L153.04 737.52L157.64 737.09L162.18 736.67L166.73 736.25L171.27 735.83L175.81 735.41L180.36 734.99L184.90 734.58L189.45 734.17L193.99 733.77L198.54 733.37L203.08 732.97L207.63 732.59L212.24 732.21L216.91 731.84L221.58 731.48L226.25 731.13L230.93 730.78L235.60 730.43L240.27 730.09L244.94 729.75L249.61 729.41L254.29 729.07L258.96 728.73L263.63 728.39L268.27 728.04L272.89 727.70L277.51 727.35L282.13 727.01L286.75 726.66L291.37 726.32L295.99 725.98L300.61 725.63L305.24 725.30L309.86 724.96L314.48 724.63L319.10 724.30" stroke="#333" stroke-width="1.3" fill="none" stroke-linejoin="round"/>
<path d="M319.10 724.30L323.71 723.98L328.33 723.66L332.94 723.34L337.56 723.03L342.17 722.72L346.78 722.41L351.40 722.10L356.01 721.79L360.63 721.48L365.24 721.17L369.85 720.86L374.47 720.55L379.06 720.23L383.66 719.92L388.26 719.60L392.85 719.28L397.45 718.97L402.05 718.65L406.65 718.34L411.24 718.02L415.84 717.71L420.44 717.40L425.04 717.10L429.63 716.80L434.21 716.50L438.79 716.21L443.37 715.92L447.95 715.63L452.53 715.34L457.11 715.06L461.69 714.77L466.27 714.49L470.85 714.21L475.43 713.92L480.01 713.64L484.63 713.36L489.30 713.07L493.96 712.77L498.63 712.47L503.29 712.17L507.96 711.87L512.62 711.57L517.29 711.29L521.95 711.01L526.62 710.75L531.28 710.50L535.95 710.27L540.56 710.06L545.16 709.85L549.76 709.65L554.36 709.45L558.95 709.25L563.55 709.07L568.15 708.89L572.75 708.73L577.34 708.58L581.94 708.44L586.54 708.32L591.13 708.22L595.75 708.12L600.36 708.03L604.97 707.94L609.59 707.87L614.20 707.82L618.82 707.80L623.43 707.86L628.04 708.05L632.66 708.35L637.27 708.74L641.89 709.20L646.50 709.70" stroke="#141414" stroke-width="1.95" fill="none" stroke-linejoin="round"/>
<path d="M55.4 640V767.4" stroke="#464646" stroke-width="1.45" fill="none"/>
<text class="s" transform="translate(37.10 773.30) scale(1.05 1)" font-size="16.3" text-anchor="middle">0.0</text>
<text class="s" transform="translate(37.10 747.80) scale(1.05 1)" font-size="16.3" text-anchor="middle">0.8</text>
<text class="s" transform="translate(37.10 722.90) scale(1.05 1)" font-size="16.3" text-anchor="middle">1.6</text>
<text class="s" transform="translate(37.10 697.70) scale(1.05 1)" font-size="16.3" text-anchor="middle">2.4</text>
<text class="s" transform="translate(37.10 672.90) scale(1.05 1)" font-size="16.3" text-anchor="middle">3.2</text>
<path d="M49.5 767.20H55.4M49.5 741.10H55.4M49.5 716.30H55.4M49.5 689.30H55.4M49.5 664.10H55.4" stroke="#464646" stroke-width="1.45" fill="none"/>
<text class="s" transform="translate(85.60 773.70) scale(1.05 1)" font-size="16.3" text-anchor="middle">0.0</text>
<text class="s" transform="translate(85.60 747.80) scale(1.05 1)" font-size="16.3" text-anchor="middle">0.6</text>
<text class="s" transform="translate(85.60 721.50) scale(1.05 1)" font-size="16.3" text-anchor="middle">1.2</text>
<text class="s" transform="translate(85.60 695.30) scale(1.05 1)" font-size="16.3" text-anchor="middle">1.8</text>
<text class="s" transform="translate(85.60 669.70) scale(1.05 1)" font-size="16.3" text-anchor="middle">2.4</text>
<text class="a m" transform="translate(55.90 616.40) scale(1.05 1)" font-size="16.2" text-anchor="middle">P2</text>
<text class="a m" transform="translate(86.70 616.40) scale(1.02 1)" font-size="16.2" text-anchor="middle">P2</text>
<text class="a" transform="translate(52.40 633.80) scale(1.0 1)" font-size="16.5" text-anchor="middle">[Hp]</text>
<text class="a" transform="translate(84.30 633.80) scale(1.0 1)" font-size="16.5" text-anchor="middle">[kW]</text>
<text class="a" transform="translate(726.80 631.60) scale(1.055 1)" font-size="16" text-anchor="end">Eta[%]</text>
<text class="s" transform="translate(725.90 773.60) scale(1.05 1)" font-size="16.3" text-anchor="end">0</text>
<text class="s" transform="translate(725.90 747.80) scale(1.05 1)" font-size="16.3" text-anchor="end">20</text>
<text class="s" transform="translate(725.90 721.90) scale(1.05 1)" font-size="16.3" text-anchor="end">40</text>
<text class="s" transform="translate(725.90 695.90) scale(1.05 1)" font-size="16.3" text-anchor="end">60</text>
<text class="s" transform="translate(725.90 669.70) scale(1.05 1)" font-size="16.3" text-anchor="end">80</text>
<text class="a" transform="translate(594.60 679.30) scale(1.0 1)" font-size="16">Eta</text>
<text class="a" transform="translate(649.20 687.40) scale(1.0 1)" font-size="16.5" word-spacing="-1.8">P2 1/1</text>
<text class="a" transform="translate(649.20 707.30) scale(1.0 1)" font-size="16.5" word-spacing="-1.2">P2 2/3</text>
<text class="s" transform="translate(102.80 787.00) scale(1.05 1)" font-size="15.7" text-anchor="middle">0</text>
<text class="s" transform="translate(155.10 787.00) scale(1.05 1)" font-size="15.7" text-anchor="middle">4</text>
<text class="s" transform="translate(208.00 787.00) scale(1.05 1)" font-size="15.7" text-anchor="middle">8</text>
<text class="s" transform="translate(261.50 787.00) scale(1.05 1)" font-size="15.7" text-anchor="middle">12</text>
<text class="s" transform="translate(317.80 787.00) scale(1.05 1)" font-size="15.7" text-anchor="middle">16</text>
<text class="s" transform="translate(373.50 787.00) scale(1.05 1)" font-size="15.7" text-anchor="middle">20</text>
<text class="s" transform="translate(429.40 787.00) scale(1.05 1)" font-size="15.7" text-anchor="middle">24</text>
<text class="s" transform="translate(482.40 787.00) scale(1.05 1)" font-size="15.7" text-anchor="middle">28</text>
<text class="s" transform="translate(537.30 787.00) scale(1.05 1)" font-size="15.7" text-anchor="middle">32</text>
<text class="s" transform="translate(589.70 787.00) scale(1.05 1)" font-size="15.7" text-anchor="middle">36</text>
<text class="s" transform="translate(645.80 787.00) scale(1.05 1)" font-size="15.7" text-anchor="middle">40</text>
<text class="a" transform="translate(664.0 786.70)" font-size="17.6">Q [m<tspan dy="-7.3" font-size="8.8">3</tspan><tspan dy="7.3">/h]</tspan></text>
<path d="M102.60 840.60V966.60M158.20 862.50V883.20M158.20 904.30V966.60M212.60 840.60V966.60M267.40 840.60V966.60M320.60 840.60V966.60M374.30 840.60V966.60M428.80 840.60V966.60M483.60 840.60V966.60M538.00 840.60V966.60M592.00 840.60V966.60M645.60 840.60V966.60M700.60 840.60V966.60M102.60 840.60H700.60M102.60 862.50H700.60M102.60 883.20H700.60M102.60 904.30H700.60M102.60 925.30H700.60M102.60 945.90H700.60M102.60 966.60H700.60" stroke="#464646" stroke-width="1.45" fill="none"/>
<path d="M102.60 862.80L107.33 862.80L112.06 862.80L116.80 862.80L121.53 862.80L126.26 862.80L130.99 862.80L135.72 862.80L140.46 862.80L145.19 862.80L149.92 862.85L154.65 862.93L159.36 863.02L163.99 863.10L168.62 863.18L173.25 863.27L177.88 863.36L182.51 863.46L187.14 863.56L191.77 863.66L196.40 863.77L201.03 863.89L205.66 864.01L210.29 864.13L214.93 864.27L219.60 864.42L224.26 864.60L228.92 864.78L233.59 864.98L238.25 865.19L242.91 865.40L247.58 865.62L252.24 865.83L256.91 866.04L261.57 866.25L266.23 866.45L270.80 866.64L275.32 866.83L279.85 867.00L284.38 867.18L288.91 867.36L293.43 867.53L297.96 867.71L302.49 867.89L307.02 868.08L311.54 868.28L316.07 868.48L320.60 868.70" stroke="#333" stroke-width="1.3" fill="none" stroke-linejoin="round"/>
<path d="M320.60 868.70L325.14 868.92L329.68 869.16L334.21 869.39L338.75 869.64L343.29 869.90L347.83 870.16L352.37 870.43L356.90 870.72L361.44 871.01L365.98 871.31L370.52 871.63L375.07 871.96L379.67 872.30L384.28 872.67L388.88 873.05L393.49 873.46L398.10 873.87L402.70 874.30L407.31 874.75L411.91 875.20L416.52 875.66L421.12 876.12L425.73 876.59L430.34 877.06L434.97 877.53L439.61 878.01L444.24 878.51L448.87 879.01L453.50 879.52L458.13 880.04L462.76 880.57L467.39 881.11L472.02 881.66L476.65 882.23L481.28 882.81L485.90 883.40L490.50 883.99L495.09 884.60L499.69 885.22L504.29 885.86L508.88 886.51L513.48 887.18L518.08 887.86L522.68 888.57L527.27 889.30L531.87 890.05L536.47 890.83L541.04 891.64L545.61 892.49L550.17 893.37L554.73 894.29L559.30 895.24L563.86 896.22L568.42 897.22L572.99 898.26L577.55 899.31L582.11 900.39L586.68 901.49L591.24 902.61L595.77 903.75L600.30 904.93L604.83 906.14L609.36 907.39L613.89 908.66L618.42 909.97L622.95 911.30L627.48 912.67L632.01 914.06L636.54 915.48L641.07 916.93L645.60 918.40" stroke="#141414" stroke-width="1.95" fill="none" stroke-linejoin="round"/>
<path d="M102.60 876.60L107.33 876.58L112.06 876.57L116.80 876.56L121.53 876.54L126.26 876.53L130.99 876.52L135.72 876.52L140.46 876.51L145.19 876.51L149.92 876.50L154.65 876.50L159.36 876.50L163.99 876.50L168.62 876.50L173.25 876.51L177.88 876.51L182.51 876.52L187.14 876.53L191.77 876.54L196.40 876.55L201.03 876.56L205.66 876.58L210.29 876.59L214.93 876.61L219.60 876.66L224.26 876.73L228.92 876.82L233.59 876.93L238.25 877.07L242.91 877.21L247.58 877.37L252.24 877.53L256.91 877.71L261.57 877.88L266.23 878.06L270.80 878.24L275.32 878.45L279.85 878.68L284.38 878.94L288.91 879.21L293.43 879.50L297.96 879.80L302.49 880.10L307.02 880.41L311.54 880.71L316.07 881.01L320.60 881.30" stroke="#333" stroke-width="1.3" fill="none" stroke-linejoin="round"/>
<path d="M320.60 881.30L325.14 881.58L329.68 881.86L334.21 882.14L338.75 882.41L343.29 882.69L347.83 882.98L352.37 883.27L356.90 883.56L361.44 883.87L365.98 884.19L370.52 884.52L375.07 884.86L379.67 885.22L384.28 885.59L388.88 885.98L393.49 886.38L398.10 886.80L402.70 887.23L407.31 887.66L411.91 888.11L416.52 888.56L421.12 889.02L425.73 889.49L430.34 889.96L434.97 890.44L439.61 890.92L444.24 891.42L448.87 891.93L453.50 892.45L458.13 892.98L462.76 893.52L467.39 894.07L472.02 894.64L476.65 895.21L481.28 895.80L485.90 896.40L490.50 897.02L495.09 897.64L499.69 898.28L504.29 898.93L508.88 899.60L513.48 900.29L518.08 900.99L522.68 901.72L527.27 902.47L531.87 903.24L536.47 904.03L541.04 904.85L545.61 905.71L550.17 906.60L554.73 907.53L559.30 908.48L563.86 909.47L568.42 910.48L572.99 911.51L577.55 912.56L582.11 913.63L586.68 914.72L591.24 915.82L595.77 916.93L600.30 918.08L604.83 919.25L609.36 920.45L613.89 921.67L618.42 922.92L622.95 924.19L627.48 925.49L632.01 926.81L636.54 928.15L641.07 929.52L645.60 930.90" stroke="#141414" stroke-width="1.95" fill="none" stroke-linejoin="round"/>
<path d="M102.60 953.90L107.33 953.78L112.06 953.67L116.80 953.56L121.53 953.45L126.26 953.35L130.99 953.26L135.72 953.17L140.46 953.09L145.19 953.03L149.92 952.97L154.65 952.93L159.36 952.89L163.99 952.87L168.62 952.84L173.25 952.81L177.88 952.79L182.51 952.77L187.14 952.75L191.77 952.74L196.40 952.72L201.03 952.71L205.66 952.70L210.29 952.70L214.93 952.70L219.60 952.70L224.26 952.71L228.92 952.72L233.59 952.74L238.25 952.76L242.91 952.78L247.58 952.80L252.24 952.82L256.91 952.85L261.57 952.87L266.23 952.89L270.80 952.92L275.32 952.96L279.85 953.01L284.38 953.06L288.91 953.12L293.43 953.18L297.96 953.24L302.49 953.29L307.02 953.33L311.54 953.37L316.07 953.39L320.60 953.40" stroke="#333" stroke-width="1.3" fill="none" stroke-linejoin="round"/>
<path d="M320.60 953.40L325.14 953.40L329.68 953.40L334.21 953.39L338.75 953.39L343.29 953.38L347.83 953.37L352.37 953.36L356.90 953.35L361.44 953.34L365.98 953.33L370.52 953.31L375.07 953.30L379.67 953.27L384.28 953.22L388.88 953.16L393.49 953.08L398.10 952.99L402.70 952.89L407.31 952.78L411.91 952.67L416.52 952.54L421.12 952.42L425.73 952.29L430.34 952.16L434.97 952.00L439.61 951.83L444.24 951.64L448.87 951.43L453.50 951.21L458.13 950.98L462.76 950.75L467.39 950.52L472.02 950.28L476.65 950.03L481.28 949.75L485.90 949.44L490.50 949.11L495.09 948.75L499.69 948.37L504.29 947.97L508.88 947.56L513.48 947.13L518.08 946.69L522.68 946.24L527.27 945.77L531.87 945.27L536.47 944.70L541.04 944.06L545.61 943.33L550.17 942.51L554.73 941.62L559.30 940.67L563.86 939.66L568.42 938.58L572.99 937.40L577.55 936.12L582.11 934.75L586.68 933.30L591.24 931.76L595.77 930.12L600.30 928.29L604.83 926.27L609.36 924.02L613.89 921.50L618.42 918.65L622.95 915.37L627.48 911.61L632.01 907.48L636.54 902.95L641.07 897.94L645.60 892.50" stroke="#141414" stroke-width="1.95" fill="none" stroke-linejoin="round"/>
<path d="M55.5 843.6V966.7" stroke="#464646" stroke-width="1.45" fill="none"/>
<text class="s" transform="translate(33.00 970.40) scale(1.05 1)" font-size="16.3" text-anchor="middle">0</text>
<text class="s" transform="translate(33.00 950.70) scale(1.05 1)" font-size="16.3" text-anchor="middle">40</text>
<text class="s" transform="translate(33.00 930.20) scale(1.05 1)" font-size="16.3" text-anchor="middle">80</text>
<text class="s" transform="translate(33.00 909.70) scale(1.05 1)" font-size="16.3" text-anchor="middle">120</text>
<text class="s" transform="translate(33.00 888.10) scale(1.05 1)" font-size="16.3" text-anchor="middle">160</text>
<text class="s" transform="translate(33.00 867.10) scale(1.05 1)" font-size="16.3" text-anchor="middle">200</text>
<path d="M47.5 966.10H55.5M47.5 945.80H55.5M47.5 925.30H55.5M47.5 904.10H55.5M47.5 882.50H55.5M47.5 861.50H55.5" stroke="#464646" stroke-width="1.45" fill="none"/>
<text class="s" transform="translate(97.20 972.70) scale(1.05 1)" font-size="16.3" text-anchor="end">0</text>
<text class="s" transform="translate(97.20 951.70) scale(1.05 1)" font-size="16.3" text-anchor="end">4</text>
<text class="s" transform="translate(97.20 931.10) scale(1.05 1)" font-size="16.3" text-anchor="end">8</text>
<text class="s" transform="translate(97.20 910.10) scale(1.05 1)" font-size="16.3" text-anchor="end">12</text>
<text class="s" transform="translate(97.20 889.10) scale(1.05 1)" font-size="16.3" text-anchor="end">16</text>
<text class="s" transform="translate(97.20 868.50) scale(1.05 1)" font-size="16.3" text-anchor="end">20</text>
<text class="a m" transform="translate(58.50 819.20) scale(1.05 1)" font-size="16" text-anchor="middle">Q-H</text>
<text class="a m" transform="translate(91.30 819.20) scale(1.08 1)" font-size="16" text-anchor="middle">H</text>
<text class="a" transform="translate(58.80 836.30) scale(0.985 1)" font-size="17" text-anchor="middle">[kPa]</text>
<text class="a" transform="translate(91.30 836.30) scale(1.03 1)" font-size="17" text-anchor="middle">[m]</text>
<text class="a" transform="translate(726.40 833.40) scale(1.0 1)" font-size="15.8" text-anchor="end">NPSH [m]</text>
<text class="s" transform="translate(715.00 970.80) scale(1.05 1)" font-size="16.3" text-anchor="middle">0</text>
<text class="s" transform="translate(715.00 950.00) scale(1.05 1)" font-size="16.3" text-anchor="middle">2</text>
<text class="s" transform="translate(715.00 929.30) scale(1.05 1)" font-size="16.3" text-anchor="middle">4</text>
<text class="s" transform="translate(715.00 908.00) scale(1.05 1)" font-size="16.3" text-anchor="middle">6</text>
<text class="s" transform="translate(715.00 887.40) scale(1.05 1)" font-size="16.3" text-anchor="middle">8</text>
<text class="a" transform="translate(109.60 858.90) scale(0.94 1)" font-size="17.8">QH2900rpm1/1</text>
<text class="a" transform="translate(110.00 900.20) scale(0.95 1)" font-size="17.8">QH2900rpm2/3</text>
<text class="a" transform="translate(647.60 900.50) scale(1.0 1)" font-size="16.3">NPSH</text>
<text class="s" transform="translate(102.80 985.90) scale(1.05 1)" font-size="15.7" text-anchor="middle">0</text>
<text class="s" transform="translate(155.10 985.90) scale(1.05 1)" font-size="15.7" text-anchor="middle">4</text>
<text class="s" transform="translate(208.00 985.90) scale(1.05 1)" font-size="15.7" text-anchor="middle">8</text>
<text class="s" transform="translate(261.50 985.90) scale(1.05 1)" font-size="15.7" text-anchor="middle">12</text>
<text class="s" transform="translate(317.80 985.90) scale(1.05 1)" font-size="15.7" text-anchor="middle">16</text>
<text class="s" transform="translate(373.50 985.90) scale(1.05 1)" font-size="15.7" text-anchor="middle">20</text>
<text class="s" transform="translate(429.40 985.90) scale(1.05 1)" font-size="15.7" text-anchor="middle">24</text>
<text class="s" transform="translate(482.40 985.90) scale(1.05 1)" font-size="15.7" text-anchor="middle">28</text>
<text class="s" transform="translate(537.30 985.90) scale(1.05 1)" font-size="15.7" text-anchor="middle">32</text>
<text class="s" transform="translate(589.70 985.90) scale(1.05 1)" font-size="15.7" text-anchor="middle">36</text>
<text class="s" transform="translate(645.80 985.90) scale(1.05 1)" font-size="15.7" text-anchor="middle">40</text>
<text class="a" transform="translate(664.0 985.60)" font-size="17.6">Q [m<tspan dy="-7.3" font-size="8.8">3</tspan><tspan dy="7.3">/h]</tspan></text>
</svg>
</body>
</html>
